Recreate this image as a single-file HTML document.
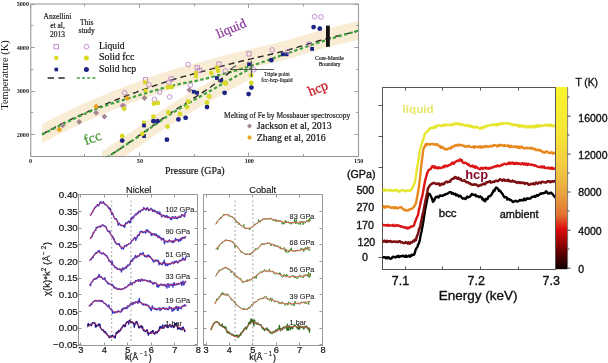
<!DOCTYPE html><html><head><meta charset="utf-8"><style>html,body{margin:0;padding:0;background:#fff;width:608px;height:363px;overflow:hidden}svg{display:block;will-change:transform}</style></head><body><svg width="608" height="363" viewBox="0 0 608 363"><defs><clipPath id="cpA"><rect x="30.8" y="4.0" width="327.7" height="152.5"/></clipPath></defs>
<g clip-path="url(#cpA)">
<path d="M42,124.4 L43,123.8 L44,123.3 L45,122.7 L46,122.2 L47,121.6 L48,121 L49,120.5 L50,119.9 L51,119.4 L52,118.9 L53,118.3 L54,117.8 L55,117.3 L56,116.7 L57,116.2 L58,115.7 L59,115.2 L60,114.7 L61,114.2 L62,113.7 L63,113.2 L64,112.7 L65,112.2 L66,111.8 L67,111.3 L68,110.8 L69,110.3 L70,109.8 L71,109.4 L72,108.9 L73,108.4 L74,108 L75,107.5 L76,107 L77,106.6 L78,106.1 L79,105.7 L80,105.2 L81,104.8 L82,104.3 L83,103.9 L84,103.4 L85,103 L86,102.5 L87,102.1 L88,101.7 L89,101.2 L90,100.8 L91,100.4 L92,99.9 L93,99.5 L94,99.1 L95,98.6 L96,98.2 L97,97.8 L98,97.3 L99,96.9 L100,96.5 L101,96.1 L102,95.7 L103,95.2 L104,94.8 L105,94.4 L106,94 L107,93.6 L108,93.2 L109,92.7 L110,92.3 L111,91.9 L112,91.5 L113,91.1 L114,90.7 L115,90.3 L116,89.9 L117,89.5 L118,89.1 L119,88.7 L120,88.3 L121,87.9 L122,87.5 L123,87.2 L124,86.8 L125,86.4 L126,86 L127,85.6 L128,85.2 L129,84.9 L130,84.5 L131,84.1 L132,83.7 L133,83.4 L134,83 L135,82.6 L136,82.3 L137,81.9 L138,81.5 L139,81.2 L140,80.8 L141,80.4 L142,80.1 L143,79.7 L144,79.4 L145,79 L146,78.6 L147,78.3 L148,77.9 L149,77.6 L150,77.2 L151,76.9 L152,76.5 L153,76.2 L154,75.8 L155,75.5 L156,75.1 L157,74.8 L158,74.5 L159,74.1 L160,73.8 L161,73.5 L162,73.1 L163,72.8 L164,72.5 L165,72.1 L166,71.8 L167,71.5 L168,71.2 L169,70.9 L170,70.5 L171,70.2 L172,69.9 L173,69.6 L174,69.3 L175,69 L176,68.7 L177,68.4 L178,68.1 L179,67.8 L180,67.5 L181,67.3 L182,67 L183,66.7 L184,66.4 L185,66.2 L186,65.9 L187,65.6 L188,65.4 L189,65.1 L190,64.8 L191,64.6 L192,64.3 L193,64 L194,63.8 L195,63.5 L196,63.2 L197,63 L198,62.7 L199,62.4 L200,62.1 L201,61.9 L202,61.6 L203,61.3 L204,61.1 L205,60.8 L206,60.5 L207,60.2 L208,60 L209,59.7 L210,59.4 L211,59.1 L212,58.9 L213,58.6 L214,58.3 L215,58.1 L216,57.8 L217,57.5 L218,57.3 L219,57 L220,56.7 L221,56.4 L222,56.2 L223,55.9 L224,55.6 L225,55.4 L226,55.1 L227,54.9 L228,54.6 L229,54.3 L230,54.1 L231,53.8 L232,53.5 L233,53.3 L234,53 L235,52.8 L236,52.5 L237,52.3 L238,52 L239,51.8 L240,51.5 L241,51.2 L242,51 L243,50.8 L244,50.5 L245,50.3 L246,50 L247,49.8 L248,49.6 L249,49.3 L250,49.1 L251,48.9 L252,48.6 L253,48.4 L254,48.2 L255,47.9 L256,47.7 L257,47.5 L258,47.2 L259,47 L260,46.8 L261,46.6 L262,46.3 L263,46.1 L264,45.9 L265,45.7 L266,45.4 L267,45.2 L268,45 L269,44.7 L270,44.5 L271,44.3 L272,44 L273,43.8 L274,43.6 L275,43.3 L276,43.1 L277,42.8 L278,42.6 L279,42.3 L280,42.1 L281,41.8 L282,41.6 L283,41.3 L284,41.1 L285,40.8 L286,40.5 L287,40.3 L288,40 L289,39.7 L290,39.4 L291,39.1 L292,38.8 L293,38.6 L294,38.3 L295,38 L296,37.7 L297,37.4 L298,37.1 L299,36.7 L300,36.4 L301,36.1 L302,35.8 L303,35.5 L304,35.2 L305,34.9 L306,34.6 L307,34.3 L308,34 L309,33.7 L310,33.4 L311,33.1 L312,32.8 L313,32.5 L314,32.2 L315,31.9 L316,31.6 L317,31.3 L318,31 L319,30.8 L320,30.5 L321,30.2 L322,30 L323,29.7 L324,29.4 L325,29.2 L326,28.9 L327,28.6 L328,28.4 L329,28.1 L330,27.9 L331,27.6 L332,27.3 L333,27.1 L334,26.8 L335,26.6 L336,26.3 L337,26.1 L338,25.8 L339,25.6 L340,25.3 L341,25.1 L342,24.8 L343,24.6 L344,24.4 L345,24.1 L346,23.9 L347,23.6 L348,23.4 L349,23.2 L350,22.9 L351,22.7 L352,22.5 L353,22.2 L354,22 L355,21.8 L356,21.6 L357,21.3 L358,21.1 L358,40.1 L357,40.3 L356,40.6 L355,40.8 L354,41 L353,41.2 L352,41.5 L351,41.7 L350,41.9 L349,42.2 L348,42.4 L347,42.6 L346,42.9 L345,43.1 L344,43.4 L343,43.6 L342,43.8 L341,44.1 L340,44.3 L339,44.6 L338,44.8 L337,45.1 L336,45.3 L335,45.6 L334,45.8 L333,46.1 L332,46.3 L331,46.6 L330,46.9 L329,47.1 L328,47.4 L327,47.6 L326,47.9 L325,48.2 L324,48.4 L323,48.7 L322,49 L321,49.2 L320,49.5 L319,49.8 L318,50 L317,50.3 L316,50.6 L315,50.9 L314,51.2 L313,51.5 L312,51.8 L311,52.1 L310,52.4 L309,52.7 L308,53 L307,53.3 L306,53.6 L305,53.9 L304,54.2 L303,54.5 L302,54.8 L301,55.1 L300,55.4 L299,55.7 L298,56.1 L297,56.4 L296,56.7 L295,57 L294,57.3 L293,57.6 L292,57.8 L291,58.1 L290,58.4 L289,58.7 L288,59 L287,59.3 L286,59.5 L285,59.8 L284,60.1 L283,60.3 L282,60.6 L281,60.8 L280,61.1 L279,61.3 L278,61.6 L277,61.8 L276,62.1 L275,62.3 L274,62.6 L273,62.8 L272,63 L271,63.3 L270,63.5 L269,63.7 L268,64 L267,64.2 L266,64.4 L265,64.7 L264,64.9 L263,65.1 L262,65.3 L261,65.6 L260,65.8 L259,66 L258,66.2 L257,66.5 L256,66.7 L255,66.9 L254,67.2 L253,67.4 L252,67.6 L251,67.9 L250,68.1 L249,68.3 L248,68.6 L247,68.8 L246,69 L245,69.3 L244,69.5 L243,69.8 L242,70 L241,70.2 L240,70.5 L239,70.8 L238,71 L237,71.3 L236,71.5 L235,71.8 L234,72 L233,72.3 L232,72.5 L231,72.8 L230,73.1 L229,73.3 L228,73.6 L227,73.9 L226,74.1 L225,74.4 L224,74.6 L223,74.9 L222,75.2 L221,75.4 L220,75.7 L219,76 L218,76.3 L217,76.5 L216,76.8 L215,77.1 L214,77.3 L213,77.6 L212,77.9 L211,78.1 L210,78.4 L209,78.7 L208,79 L207,79.2 L206,79.5 L205,79.8 L204,80.1 L203,80.3 L202,80.6 L201,80.9 L200,81.1 L199,81.4 L198,81.7 L197,82 L196,82.2 L195,82.5 L194,82.8 L193,83 L192,83.3 L191,83.6 L190,83.8 L189,84.1 L188,84.4 L187,84.6 L186,84.9 L185,85.2 L184,85.4 L183,85.7 L182,86 L181,86.3 L180,86.5 L179,86.8 L178,87.1 L177,87.4 L176,87.7 L175,88 L174,88.3 L173,88.6 L172,88.9 L171,89.2 L170,89.5 L169,89.9 L168,90.2 L167,90.5 L166,90.8 L165,91.1 L164,91.5 L163,91.8 L162,92.1 L161,92.5 L160,92.8 L159,93.1 L158,93.5 L157,93.8 L156,94.1 L155,94.5 L154,94.8 L153,95.2 L152,95.5 L151,95.9 L150,96.2 L149,96.6 L148,96.9 L147,97.3 L146,97.6 L145,98 L144,98.4 L143,98.7 L142,99.1 L141,99.4 L140,99.8 L139,100.2 L138,100.5 L137,100.9 L136,101.3 L135,101.6 L134,102 L133,102.4 L132,102.7 L131,103.1 L130,103.5 L129,103.9 L128,104.2 L127,104.6 L126,105 L125,105.4 L124,105.8 L123,106.2 L122,106.5 L121,106.9 L120,107.3 L119,107.7 L118,108.1 L117,108.5 L116,108.9 L115,109.3 L114,109.7 L113,110.1 L112,110.5 L111,110.9 L110,111.3 L109,111.7 L108,112.2 L107,112.6 L106,113 L105,113.4 L104,113.8 L103,114.2 L102,114.7 L101,115.1 L100,115.5 L99,115.9 L98,116.3 L97,116.8 L96,117.2 L95,117.6 L94,118.1 L93,118.5 L92,118.9 L91,119.4 L90,119.8 L89,120.2 L88,120.7 L87,121.1 L86,121.5 L85,122 L84,122.4 L83,122.9 L82,123.3 L81,123.8 L80,124.2 L79,124.7 L78,125.1 L77,125.6 L76,126 L75,126.5 L74,127 L73,127.4 L72,127.9 L71,128.4 L70,128.8 L69,129.3 L68,129.8 L67,130.3 L66,130.8 L65,131.2 L64,131.7 L63,132.2 L62,132.7 L61,133.2 L60,133.7 L59,134.2 L58,134.7 L57,135.2 L56,135.7 L55,136.3 L54,136.8 L53,137.3 L52,137.9 L51,138.4 L50,138.9 L49,139.5 L48,140 L47,140.6 L46,141.2 L45,141.7 L44,142.3 L43,142.8 L42,143.4 Z" fill="#ebc984" opacity="0.35"/>
<path d="M102,151.5 L103,150.8 L104,150.1 L105,149.4 L106,148.7 L107,148 L108,147.3 L109,146.6 L110,146 L111,145.3 L112,144.6 L113,143.9 L114,143.3 L115,142.6 L116,141.9 L117,141.3 L118,140.6 L119,139.9 L120,139.3 L121,138.6 L122,137.9 L123,137.3 L124,136.6 L125,136 L126,135.3 L127,134.7 L128,134 L129,133.3 L130,132.7 L131,132 L132,131.3 L133,130.7 L134,130 L135,129.3 L136,128.7 L137,128 L138,127.3 L139,126.6 L140,125.9 L141,125.2 L142,124.5 L143,123.8 L144,123.1 L145,122.4 L146,121.7 L147,121 L148,120.3 L149,119.6 L150,118.8 L151,118.1 L152,117.4 L153,116.7 L154,116 L155,115.3 L156,114.6 L157,113.8 L158,113.1 L159,112.4 L160,111.7 L161,111 L162,110.3 L163,109.7 L164,109 L165,108.3 L166,107.6 L167,107 L168,106.3 L169,105.6 L170,105 L171,104.4 L172,103.7 L173,103.1 L174,102.5 L175,101.8 L176,101.2 L177,100.6 L178,100 L179,99.4 L180,98.8 L181,98.2 L182,97.6 L183,97 L184,96.4 L185,95.8 L186,95.2 L187,94.6 L188,94 L189,93.4 L190,92.9 L191,92.3 L192,91.7 L193,91.1 L194,90.5 L195,90 L196,89.4 L197,88.8 L198,88.2 L199,87.7 L200,87.1 L201,86.5 L202,86 L203,85.4 L204,84.8 L205,84.3 L206,83.7 L207,83.2 L208,82.6 L209,82 L210,81.5 L211,80.9 L212,80.3 L213,79.8 L214,79.2 L215,78.7 L216,78.1 L217,77.5 L218,77 L219,76.4 L220,75.8 L221,75.3 L222,74.7 L223,74.1 L224,73.6 L225,73 L226,72.5 L227,71.9 L228,71.3 L229,70.8 L230,70.2 L231,69.7 L232,69.1 L233,68.5 L234,68 L235,67.4 L236,66.9 L237,66.3 L238,65.8 L239,65.2 L240,64.7 L241,64.1 L242,63.6 L243,63 L244,62.5 L245,62 L246,61.4 L247,60.9 L248,60.3 L249,59.8 L250,59.2 L251,58.7 L251,78.7 L250,79.2 L249,79.8 L248,80.3 L247,80.9 L246,81.4 L245,82 L244,82.5 L243,83 L242,83.6 L241,84.1 L240,84.7 L239,85.2 L238,85.8 L237,86.3 L236,86.9 L235,87.4 L234,88 L233,88.5 L232,89.1 L231,89.7 L230,90.2 L229,90.8 L228,91.3 L227,91.9 L226,92.5 L225,93 L224,93.6 L223,94.1 L222,94.7 L221,95.3 L220,95.8 L219,96.4 L218,97 L217,97.5 L216,98.1 L215,98.7 L214,99.2 L213,99.8 L212,100.3 L211,100.9 L210,101.5 L209,102 L208,102.6 L207,103.2 L206,103.7 L205,104.3 L204,104.8 L203,105.4 L202,106 L201,106.5 L200,107.1 L199,107.7 L198,108.2 L197,108.8 L196,109.4 L195,110 L194,110.5 L193,111.1 L192,111.7 L191,112.3 L190,112.9 L189,113.4 L188,114 L187,114.6 L186,115.2 L185,115.8 L184,116.4 L183,117 L182,117.6 L181,118.2 L180,118.8 L179,119.4 L178,120 L177,120.6 L176,121.2 L175,121.8 L174,122.5 L173,123.1 L172,123.7 L171,124.4 L170,125 L169,125.6 L168,126.3 L167,127 L166,127.6 L165,128.3 L164,129 L163,129.7 L162,130.3 L161,131 L160,131.7 L159,132.4 L158,133.1 L157,133.8 L156,134.6 L155,135.3 L154,136 L153,136.7 L152,137.4 L151,138.1 L150,138.8 L149,139.6 L148,140.3 L147,141 L146,141.7 L145,142.4 L144,143.1 L143,143.8 L142,144.5 L141,145.2 L140,145.9 L139,146.6 L138,147.3 L137,148 L136,148.7 L135,149.3 L134,150 L133,150.7 L132,151.3 L131,152 L130,152.7 L129,153.3 L128,154 L127,154.7 L126,155.3 L125,156 L124,156.6 L123,157.3 L122,157.9 L121,158.6 L120,159.3 L119,159.9 L118,160.6 L117,161.3 L116,161.9 L115,162.6 L114,163.3 L113,163.9 L112,164.6 L111,165.3 L110,166 L109,166.6 L108,167.3 L107,168 L106,168.7 L105,169.4 L104,170.1 L103,170.8 L102,171.5 Z" fill="#ebc984" opacity="0.35"/>
</g>
<rect x="30.8" y="4.0" width="327.7" height="152.5" fill="none" stroke="#9a9a9a" stroke-width="1.1"/>
<line x1="30.5" y1="156.5" x2="30.5" y2="152.5" stroke="#a0a0a0" stroke-width="1"/>
<line x1="30.5" y1="4.0" x2="30.5" y2="8.0" stroke="#a0a0a0" stroke-width="1"/>
<line x1="84.5" y1="156.5" x2="84.5" y2="154.0" stroke="#a0a0a0" stroke-width="1"/>
<line x1="84.5" y1="4.0" x2="84.5" y2="6.5" stroke="#a0a0a0" stroke-width="1"/>
<line x1="139.5" y1="156.5" x2="139.5" y2="152.5" stroke="#a0a0a0" stroke-width="1"/>
<line x1="139.5" y1="4.0" x2="139.5" y2="8.0" stroke="#a0a0a0" stroke-width="1"/>
<line x1="194.5" y1="156.5" x2="194.5" y2="154.0" stroke="#a0a0a0" stroke-width="1"/>
<line x1="194.5" y1="4.0" x2="194.5" y2="6.5" stroke="#a0a0a0" stroke-width="1"/>
<line x1="248.5" y1="156.5" x2="248.5" y2="152.5" stroke="#a0a0a0" stroke-width="1"/>
<line x1="248.5" y1="4.0" x2="248.5" y2="8.0" stroke="#a0a0a0" stroke-width="1"/>
<line x1="303.5" y1="156.5" x2="303.5" y2="154.0" stroke="#a0a0a0" stroke-width="1"/>
<line x1="303.5" y1="4.0" x2="303.5" y2="6.5" stroke="#a0a0a0" stroke-width="1"/>
<line x1="358.5" y1="156.5" x2="358.5" y2="152.5" stroke="#a0a0a0" stroke-width="1"/>
<line x1="358.5" y1="4.0" x2="358.5" y2="8.0" stroke="#a0a0a0" stroke-width="1"/>
<line x1="30.8" y1="4.5" x2="34.8" y2="4.5" stroke="#a0a0a0" stroke-width="1"/>
<line x1="358.5" y1="4.5" x2="354.5" y2="4.5" stroke="#a0a0a0" stroke-width="1"/>
<line x1="30.8" y1="25.5" x2="33.3" y2="25.5" stroke="#a0a0a0" stroke-width="1"/>
<line x1="358.5" y1="25.5" x2="356.0" y2="25.5" stroke="#a0a0a0" stroke-width="1"/>
<line x1="30.8" y1="47.5" x2="34.8" y2="47.5" stroke="#a0a0a0" stroke-width="1"/>
<line x1="358.5" y1="47.5" x2="354.5" y2="47.5" stroke="#a0a0a0" stroke-width="1"/>
<line x1="30.8" y1="69.5" x2="33.3" y2="69.5" stroke="#a0a0a0" stroke-width="1"/>
<line x1="358.5" y1="69.5" x2="356.0" y2="69.5" stroke="#a0a0a0" stroke-width="1"/>
<line x1="30.8" y1="91.5" x2="34.8" y2="91.5" stroke="#a0a0a0" stroke-width="1"/>
<line x1="358.5" y1="91.5" x2="354.5" y2="91.5" stroke="#a0a0a0" stroke-width="1"/>
<line x1="30.8" y1="112.5" x2="33.3" y2="112.5" stroke="#a0a0a0" stroke-width="1"/>
<line x1="358.5" y1="112.5" x2="356.0" y2="112.5" stroke="#a0a0a0" stroke-width="1"/>
<line x1="30.8" y1="134.5" x2="34.8" y2="134.5" stroke="#a0a0a0" stroke-width="1"/>
<line x1="358.5" y1="134.5" x2="354.5" y2="134.5" stroke="#a0a0a0" stroke-width="1"/>
<text x="29" y="6.2" font-family='"Liberation Serif", serif' font-size="6.2" fill="#222" text-anchor="end" font-weight="bold" stroke="#222" stroke-width="0" >5000</text>
<text x="29" y="49.7" font-family='"Liberation Serif", serif' font-size="6.2" fill="#222" text-anchor="end" font-weight="bold" stroke="#222" stroke-width="0" >4000</text>
<text x="29" y="93.1" font-family='"Liberation Serif", serif' font-size="6.2" fill="#222" text-anchor="end" font-weight="bold" stroke="#222" stroke-width="0" >3000</text>
<text x="29" y="136.6" font-family='"Liberation Serif", serif' font-size="6.2" fill="#222" text-anchor="end" font-weight="bold" stroke="#222" stroke-width="0" >2000</text>
<text x="30.5" y="162.8" font-family='"Liberation Serif", serif' font-size="6.2" fill="#222" text-anchor="middle" font-weight="bold" stroke="#222" stroke-width="0" >0</text>
<text x="139.9" y="162.8" font-family='"Liberation Serif", serif' font-size="6.2" fill="#222" text-anchor="middle" font-weight="bold" stroke="#222" stroke-width="0" >50</text>
<text x="249.3" y="162.8" font-family='"Liberation Serif", serif' font-size="6.2" fill="#222" text-anchor="middle" font-weight="bold" stroke="#222" stroke-width="0" >100</text>
<text x="358.7" y="162.8" font-family='"Liberation Serif", serif' font-size="6.2" fill="#222" text-anchor="middle" font-weight="bold" stroke="#222" stroke-width="0" >150</text>
<text x="165" y="173.7" font-family='"Liberation Serif", serif' font-size="10" fill="#111" text-anchor="start" font-weight="normal" stroke="#111" stroke-width="0.2"  textLength="59.6" lengthAdjust="spacingAndGlyphs">Pressure (GPa)</text>
<text transform="translate(8.3,75) rotate(-90)" font-family='"Liberation Serif", serif' font-size="10.4" fill="#111" text-anchor="middle">Temperature (K)</text>
<g clip-path="url(#cpA)">
<path d="M42,134.4 L43,133.8 L44,133.3 L45,132.7 L46,132.2 L47,131.6 L48,131 L49,130.5 L50,129.9 L51,129.4 L52,128.9 L53,128.3 L54,127.8 L55,127.3 L56,126.7 L57,126.2 L58,125.7 L59,125.2 L60,124.7 L61,124.2 L62,123.7 L63,123.2 L64,122.7 L65,122.2 L66,121.8 L67,121.3 L68,120.8 L69,120.3 L70,119.8 L71,119.4 L72,118.9 L73,118.4 L74,118 L75,117.5 L76,117 L77,116.6 L78,116.1 L79,115.7 L80,115.2 L81,114.8 L82,114.3 L83,113.9 L84,113.4 L85,113 L86,112.5 L87,112.1 L88,111.7 L89,111.2 L90,110.8 L91,110.4 L92,109.9 L93,109.5 L94,109.1 L95,108.6 L96,108.2 L97,107.8 L98,107.3 L99,106.9 L100,106.5 L101,106.1 L102,105.7 L103,105.2 L104,104.8 L105,104.4 L106,104 L107,103.6 L108,103.2 L109,102.7 L110,102.3 L111,101.9 L112,101.5 L113,101.1 L114,100.7 L115,100.3 L116,99.9 L117,99.5 L118,99.1 L119,98.7 L120,98.3 L121,97.9 L122,97.5 L123,97.2 L124,96.8 L125,96.4 L126,96 L127,95.6 L128,95.2 L129,94.9 L130,94.5 L131,94.1 L132,93.7 L133,93.4 L134,93 L135,92.6 L136,92.3 L137,91.9 L138,91.5 L139,91.2 L140,90.8 L141,90.4 L142,90.1 L143,89.7 L144,89.4 L145,89 L146,88.6 L147,88.3 L148,87.9 L149,87.6 L150,87.2 L151,86.9 L152,86.5 L153,86.2 L154,85.8 L155,85.5 L156,85.1 L157,84.8 L158,84.5 L159,84.1 L160,83.8 L161,83.5 L162,83.1 L163,82.8 L164,82.5 L165,82.1 L166,81.8 L167,81.5 L168,81.2 L169,80.9 L170,80.5 L171,80.2 L172,79.9 L173,79.6 L174,79.3 L175,79 L176,78.7 L177,78.4 L178,78.1 L179,77.8 L180,77.5 L181,77.3 L182,77 L183,76.7 L184,76.4 L185,76.2 L186,75.9 L187,75.6 L188,75.4 L189,75.1 L190,74.8 L191,74.6 L192,74.3 L193,74 L194,73.8 L195,73.5 L196,73.2 L197,73 L198,72.7 L199,72.4 L200,72.1 L201,71.9 L202,71.6 L203,71.3 L204,71.1 L205,70.8 L206,70.5 L207,70.2 L208,70 L209,69.7 L210,69.4 L211,69.1 L212,68.9 L213,68.6 L214,68.3 L215,68.1 L216,67.8 L217,67.5 L218,67.3 L219,67 L220,66.7 L221,66.4 L222,66.2 L223,65.9 L224,65.6 L225,65.4 L226,65.1 L227,64.9 L228,64.6 L229,64.3 L230,64.1 L231,63.8 L232,63.5 L233,63.3 L234,63 L235,62.8 L236,62.5 L237,62.3 L238,62 L239,61.8 L240,61.5 L241,61.2 L242,61 L243,60.8 L244,60.5 L245,60.3 L246,60 L247,59.8 L248,59.6 L249,59.3 L250,59.1 L251,58.9 L252,58.6 L253,58.4 L254,58.2 L255,57.9 L256,57.7 L257,57.5 L258,57.2 L259,57 L260,56.8 L261,56.6 L262,56.3 L263,56.1 L264,55.9 L265,55.7 L266,55.4 L267,55.2 L268,55 L269,54.7 L270,54.5 L271,54.3 L272,54 L273,53.8 L274,53.6 L275,53.3 L276,53.1 L277,52.8 L278,52.6 L279,52.3 L280,52.1 L281,51.8 L282,51.6 L283,51.3 L284,51.1 L285,50.8 L286,50.5 L287,50.3 L288,50 L289,49.7 L290,49.4 L291,49.1 L292,48.8 L293,48.6 L294,48.3 L295,48 L296,47.7 L297,47.4 L298,47.1 L299,46.7 L300,46.4 L301,46.1 L302,45.8 L303,45.5 L304,45.2 L305,44.9 L306,44.6 L307,44.3 L308,44 L309,43.7 L310,43.4 L311,43.1 L312,42.8 L313,42.5 L314,42.2 L315,41.9 L316,41.6 L317,41.3 L318,41 L319,40.8 L320,40.5 L321,40.2 L322,40 L323,39.7 L324,39.4 L325,39.2 L326,38.9 L327,38.6 L328,38.4 L329,38.1 L330,37.9 L331,37.6 L332,37.3 L333,37.1 L334,36.8 L335,36.6 L336,36.3 L337,36.1 L338,35.8 L339,35.6 L340,35.3 L341,35.1 L342,34.8 L343,34.6 L344,34.4 L345,34.1 L346,33.9 L347,33.6 L348,33.4 L349,33.2 L350,32.9 L351,32.7 L352,32.5 L353,32.2 L354,32 L355,31.8 L356,31.6 L357,31.3 L358,31.1" fill="none" stroke="#2a2a2a" stroke-width="1.4" stroke-dasharray="6,4"/>
<path d="M42,134.6 L43,134.1 L44,133.6 L45,133 L46,132.5 L47,132 L48,131.5 L49,131 L50,130.5 L51,130 L52,129.4 L53,128.9 L54,128.4 L55,127.9 L56,127.4 L57,127 L58,126.5 L59,126 L60,125.5 L61,125 L62,124.5 L63,124.1 L64,123.6 L65,123.1 L66,122.6 L67,122.1 L68,121.6 L69,121.2 L70,120.7 L71,120.2 L72,119.7 L73,119.2 L74,118.8 L75,118.3 L76,117.8 L77,117.3 L78,116.9 L79,116.4 L80,115.9 L81,115.5 L82,115 L83,114.6 L84,114.1 L85,113.7 L86,113.2 L87,112.8 L88,112.3 L89,111.9 L90,111.5 L91,111.1 L92,110.6 L93,110.2 L94,109.8 L95,109.4 L96,109 L97,108.6 L98,108.3 L99,107.9 L100,107.5 L101,107.1 L102,106.8 L103,106.4 L104,106.1 L105,105.7 L106,105.4 L107,105.1 L108,104.7 L109,104.4 L110,104.1 L111,103.8 L112,103.4 L113,103.1 L114,102.8 L115,102.5 L116,102.2 L117,101.9 L118,101.6 L119,101.3 L120,101 L121,100.7 L122,100.4 L123,100.1 L124,99.8 L125,99.5 L126,99.2 L127,98.9 L128,98.6 L129,98.3 L130,98 L131,97.7 L132,97.4 L133,97.1 L134,96.8 L135,96.5 L136,96.2 L137,95.9 L138,95.5 L139,95.2 L140,94.9 L141,94.6 L142,94.3 L143,94 L144,93.7 L145,93.4 L146,93.1 L147,92.8 L148,92.5 L149,92.2 L150,91.9 L151,91.6 L152,91.3 L153,91 L154,90.7 L155,90.4 L156,90.1 L157,89.8 L158,89.5 L159,89.2 L160,88.9 L161,88.6 L162,88.3 L163,88.1 L164,87.8 L165,87.5 L166,87.3 L167,87 L168,86.7 L169,86.5 L170,86.2 L171,86 L172,85.7 L173,85.5 L174,85.2 L175,85 L176,84.8 L177,84.5 L178,84.3 L179,84.1 L180,83.9 L181,83.7 L182,83.5 L183,83.3 L184,83.1 L185,82.9 L186,82.8 L187,82.6 L188,82.4 L189,82.2 L190,82 L191,81.8 L192,81.6 L193,81.4 L194,81.3 L195,81.1 L196,80.9 L197,80.7 L198,80.4 L199,80.2 L200,80 L201,79.8 L202,79.5 L203,79.3 L204,79.1 L205,78.8 L206,78.6 L207,78.3 L208,78.1 L209,77.8 L210,77.6 L211,77.3 L212,77 L213,76.8 L214,76.5 L215,76.2 L216,76 L217,75.7 L218,75.4 L219,75.1 L220,74.9 L221,74.6 L222,74.3 L223,74 L224,73.8 L225,73.5 L226,73.2 L227,73 L228,72.7 L229,72.4 L230,72.1 L231,71.9 L232,71.6 L233,71.3 L234,71 L235,70.7 L236,70.5 L237,70.2 L238,69.9 L239,69.6 L240,69.3 L241,69 L242,68.7 L243,68.4 L244,68.1 L245,67.8 L246,67.5 L247,67.2 L248,66.9 L249,66.6 L250,66.3 L251,66 L252,65.7 L253,65.3 L254,65 L255,64.7 L256,64.3 L257,64 L258,63.7 L259,63.3 L260,63 L261,62.6 L262,62.3 L263,61.9 L264,61.6 L265,61.2 L266,60.9 L267,60.5 L268,60.2 L269,59.8 L270,59.4 L271,59.1 L272,58.7 L273,58.4 L274,58 L275,57.6 L276,57.3 L277,56.9 L278,56.6 L279,56.2 L280,55.8 L281,55.5 L282,55.1 L283,54.8 L284,54.4 L285,54.1 L286,53.8 L287,53.4 L288,53.1 L289,52.7 L290,52.4 L291,52 L292,51.7 L293,51.3 L294,51 L295,50.6 L296,50.3 L297,49.9 L298,49.6 L299,49.3 L300,48.9 L301,48.6 L302,48.2 L303,47.9 L304,47.5 L305,47.2 L306,46.8 L307,46.5 L308,46.2 L309,45.8 L310,45.5 L311,45.2 L312,44.8 L313,44.5 L314,44.2 L315,43.8 L316,43.5 L317,43.2 L318,42.8 L319,42.5 L320,42.2 L321,41.9 L322,41.6 L323,41.2 L324,40.9 L325,40.6 L326,40.3 L327,40 L328,39.7 L329,39.4 L330,39 L331,38.7 L332,38.4 L333,38.1 L334,37.8 L335,37.5 L336,37.2 L337,36.9 L338,36.6 L339,36.3 L340,36 L341,35.7 L342,35.4 L343,35.1 L344,34.8 L345,34.5 L346,34.2 L347,33.9 L348,33.6 L349,33.3 L350,33 L351,32.7 L352,32.5 L353,32.2 L354,31.9 L355,31.6 L356,31.3 L357,31 L358,30.7" fill="none" stroke="#3ca03c" stroke-width="2.2" stroke-dasharray="3.4,2.4"/>
<path d="M102,159.5 L103,159 L104,158.5 L105,158 L106,157.4 L107,156.9 L108,156.4 L109,155.8 L110,155.2 L111,154.6 L112,154 L113,153.4 L114,152.8 L115,152.1 L116,151.5 L117,150.8 L118,150.2 L119,149.5 L120,148.9 L121,148.2 L122,147.5 L123,146.8 L124,146.1 L125,145.4 L126,144.7 L127,144 L128,143.3 L129,142.6 L130,141.9 L131,141.2 L132,140.5 L133,139.8 L134,139.1 L135,138.4 L136,137.7 L137,137 L138,136.3 L139,135.6 L140,134.9 L141,134.2 L142,133.5 L143,132.8 L144,132.1 L145,131.4 L146,130.7 L147,129.9 L148,129.2 L149,128.5 L150,127.8 L151,127 L152,126.3 L153,125.6 L154,124.9 L155,124.2 L156,123.4 L157,122.7 L158,122 L159,121.3 L160,120.5 L161,119.8 L162,119.1 L163,118.4 L164,117.7 L165,117 L166,116.3 L167,115.6 L168,114.9 L169,114.2 L170,113.5 L171,112.8 L172,112.1 L173,111.5 L174,110.8 L175,110.1 L176,109.5 L177,108.8 L178,108.2 L179,107.5 L180,106.9 L181,106.2 L182,105.6 L183,104.9 L184,104.3 L185,103.7 L186,103 L187,102.4 L188,101.7 L189,101.1 L190,100.5 L191,99.8 L192,99.2 L193,98.6 L194,97.9 L195,97.3 L196,96.7 L197,96 L198,95.4 L199,94.7 L200,94.1 L201,93.4 L202,92.8 L203,92.1 L204,91.4 L205,90.8 L206,90.1 L207,89.4 L208,88.7 L209,88 L210,87.4 L211,86.7 L212,85.9 L213,85.2 L214,84.5 L215,83.8 L216,83 L217,82.3 L218,81.5 L219,80.8 L220,80 L221,79.2 L222,78.4 L223,77.7 L224,76.9 L225,76.1 L226,75.3 L227,74.4 L228,73.6 L229,72.8 L230,72 L231,71.2 L232,70.3 L233,69.5" fill="none" stroke="#2a2a2a" stroke-width="1.4" stroke-dasharray="6,4"/>
<path d="M102,161 L103,160.3 L104,159.6 L105,158.9 L106,158.2 L107,157.5 L108,156.8 L109,156.1 L110,155.5 L111,154.8 L112,154.1 L113,153.4 L114,152.8 L115,152.1 L116,151.4 L117,150.8 L118,150.1 L119,149.4 L120,148.8 L121,148.1 L122,147.4 L123,146.8 L124,146.1 L125,145.5 L126,144.8 L127,144.2 L128,143.5 L129,142.8 L130,142.2 L131,141.5 L132,140.8 L133,140.2 L134,139.5 L135,138.8 L136,138.2 L137,137.5 L138,136.8 L139,136.1 L140,135.4 L141,134.7 L142,134 L143,133.3 L144,132.6 L145,131.9 L146,131.2 L147,130.5 L148,129.8 L149,129.1 L150,128.3 L151,127.6 L152,126.9 L153,126.2 L154,125.5 L155,124.8 L156,124.1 L157,123.3 L158,122.6 L159,121.9 L160,121.2 L161,120.5 L162,119.8 L163,119.2 L164,118.5 L165,117.8 L166,117.1 L167,116.5 L168,115.8 L169,115.1 L170,114.5 L171,113.9 L172,113.2 L173,112.6 L174,112 L175,111.3 L176,110.7 L177,110.1 L178,109.5 L179,108.9 L180,108.3 L181,107.7 L182,107.1 L183,106.5 L184,105.9 L185,105.3 L186,104.7 L187,104.1 L188,103.5 L189,102.9 L190,102.4 L191,101.8 L192,101.2 L193,100.6 L194,100 L195,99.5 L196,98.9 L197,98.3 L198,97.7 L199,97.2 L200,96.6 L201,96 L202,95.5 L203,94.9 L204,94.3 L205,93.8 L206,93.2 L207,92.7 L208,92.1 L209,91.5 L210,91 L211,90.4 L212,89.8 L213,89.3 L214,88.7 L215,88.2 L216,87.6 L217,87 L218,86.5 L219,85.9 L220,85.3 L221,84.8 L222,84.2 L223,83.6 L224,83.1 L225,82.5 L226,82 L227,81.4 L228,80.8 L229,80.3 L230,79.7 L231,79.2 L232,78.6 L233,78 L234,77.5 L235,76.9 L236,76.4 L237,75.8 L238,75.3 L239,74.7 L240,74.2 L241,73.6 L242,73.1 L243,72.5 L244,72 L245,71.5 L246,70.9 L247,70.4 L248,69.8 L249,69.3 L250,68.7 L251,68.2" fill="none" stroke="#3ca03c" stroke-width="2.2" stroke-dasharray="3.4,2.4"/>
</g>
<path d="M62.8,122.4 L65.7,125.3 L62.8,128.2 L59.9,125.3 Z" fill="#a48592"/>
<path d="M79.2,118.9 L82.1,121.8 L79.2,124.7 L76.3,121.8 Z" fill="#a48592"/>
<path d="M96.1,109.9 L99,112.8 L96.1,115.7 L93.2,112.8 Z" fill="#a48592"/>
<path d="M104.4,113.7 L107.3,116.6 L104.4,119.5 L101.5,116.6 Z" fill="#a48592"/>
<path d="M122.6,102.7 L125.5,105.6 L122.6,108.5 L119.7,105.6 Z" fill="#a48592"/>
<path d="M144.5,95.1 L147.4,98 L144.5,100.9 L141.6,98 Z" fill="#a48592"/>
<path d="M189.4,87.1 L192.3,90 L189.4,92.9 L186.5,90 Z" fill="#a48592"/>
<path d="M59.3,126.6 L62.2,129.5 L59.3,132.4 L56.4,129.5 Z" fill="#e9a21f"/>
<path d="M96.1,103.5 L99,106.4 L96.1,109.3 L93.2,106.4 Z" fill="#e9a21f"/>
<path d="M127.2,95.3 L130.1,98.2 L127.2,101.1 L124.3,98.2 Z" fill="#e9a21f"/>
<rect x="143.5" y="77.7" width="4.2" height="4.2" fill="none" stroke="#b577c4" stroke-width="0.8"/>
<rect x="169.1" y="76.8" width="4.2" height="4.2" fill="none" stroke="#b577c4" stroke-width="0.8"/>
<rect x="195.1" y="65.7" width="4.2" height="4.2" fill="none" stroke="#b577c4" stroke-width="0.8"/>
<rect x="197.3" y="68.2" width="4.2" height="4.2" fill="none" stroke="#b577c4" stroke-width="0.8"/>
<rect x="216.9" y="61.9" width="4.2" height="4.2" fill="none" stroke="#b577c4" stroke-width="0.8"/>
<rect x="246.9" y="51.8" width="4.2" height="4.2" fill="none" stroke="#b577c4" stroke-width="0.8"/>
<rect x="143.2" y="80.5" width="3.8" height="3.8" fill="#d9d925"/>
<rect x="143.7" y="88.6" width="3.8" height="3.8" fill="#d9d925"/>
<rect x="194" y="71.1" width="3.8" height="3.8" fill="#d9d925"/>
<rect x="194" y="74.4" width="3.8" height="3.8" fill="#d9d925"/>
<rect x="215" y="65.5" width="3.8" height="3.8" fill="#d9d925"/>
<rect x="142.1" y="120.6" width="3.8" height="3.8" fill="#d9d925"/>
<rect x="215" y="76.1" width="3.8" height="3.8" fill="#1d2384"/>
<rect x="219.4" y="78.8" width="3.8" height="3.8" fill="#1d2384"/>
<rect x="191.8" y="89.8" width="3.8" height="3.8" fill="#1d2384"/>
<rect x="195.1" y="90.9" width="3.8" height="3.8" fill="#1d2384"/>
<rect x="247.1" y="62.4" width="3.8" height="3.8" fill="#1d2384"/>
<rect x="280.9" y="52.4" width="3.8" height="3.8" fill="#1d2384"/>
<rect x="284.7" y="52.4" width="3.8" height="3.8" fill="#1d2384"/>
<rect x="310.2" y="47" width="3.8" height="3.8" fill="#1d2384"/>
<rect x="142.1" y="123.6" width="3.8" height="3.8" fill="#1d2384"/>
<rect x="142.1" y="134.1" width="3.8" height="3.8" fill="#1d2384"/>
<circle cx="124.7" cy="92.8" r="2.3" fill="none" stroke="#b577c4" stroke-width="0.8"/>
<circle cx="148.9" cy="84.7" r="2.3" fill="none" stroke="#b577c4" stroke-width="0.8"/>
<circle cx="159.7" cy="92.1" r="2.3" fill="none" stroke="#b577c4" stroke-width="0.8"/>
<circle cx="168.8" cy="82.2" r="2.3" fill="none" stroke="#b577c4" stroke-width="0.8"/>
<circle cx="169.7" cy="96.9" r="2.3" fill="none" stroke="#b577c4" stroke-width="0.8"/>
<circle cx="154.4" cy="99.4" r="2.3" fill="none" stroke="#b577c4" stroke-width="0.8"/>
<circle cx="123.8" cy="106.2" r="2.3" fill="none" stroke="#b577c4" stroke-width="0.8"/>
<circle cx="188.2" cy="64.6" r="2.3" fill="none" stroke="#b577c4" stroke-width="0.8"/>
<circle cx="190.4" cy="85.1" r="2.3" fill="none" stroke="#b577c4" stroke-width="0.8"/>
<circle cx="225.3" cy="71" r="2.3" fill="none" stroke="#b577c4" stroke-width="0.8"/>
<circle cx="253.9" cy="69.8" r="2.3" fill="none" stroke="#b577c4" stroke-width="0.8"/>
<circle cx="272.2" cy="49.9" r="2.3" fill="none" stroke="#b577c4" stroke-width="0.8"/>
<circle cx="287.6" cy="51.8" r="2.3" fill="none" stroke="#b577c4" stroke-width="0.8"/>
<circle cx="308.8" cy="44.1" r="2.3" fill="none" stroke="#b577c4" stroke-width="0.8"/>
<circle cx="314.6" cy="16.7" r="2.3" fill="none" stroke="#b577c4" stroke-width="0.8"/>
<circle cx="321" cy="16.9" r="2.3" fill="none" stroke="#b577c4" stroke-width="0.8"/>
<circle cx="167.9" cy="87.2" r="2.4" fill="#d9d925"/>
<circle cx="171.6" cy="87.2" r="2.4" fill="#d9d925"/>
<circle cx="153.9" cy="103.7" r="2.4" fill="#d9d925"/>
<circle cx="157.7" cy="102.9" r="2.4" fill="#d9d925"/>
<circle cx="124.1" cy="108.7" r="2.4" fill="#d9d925"/>
<circle cx="211.3" cy="73" r="2.4" fill="#d9d925"/>
<circle cx="218" cy="70.7" r="2.4" fill="#d9d925"/>
<circle cx="224.6" cy="82.9" r="2.4" fill="#d9d925"/>
<circle cx="209.1" cy="96.5" r="2.4" fill="#d9d925"/>
<circle cx="207" cy="102.7" r="2.4" fill="#d9d925"/>
<circle cx="188.2" cy="101.6" r="2.4" fill="#d9d925"/>
<circle cx="187.1" cy="107.1" r="2.4" fill="#d9d925"/>
<circle cx="251.2" cy="75.2" r="2.4" fill="#d9d925"/>
<circle cx="251.2" cy="82.9" r="2.4" fill="#d9d925"/>
<circle cx="225.8" cy="83.5" r="2.4" fill="#d9d925"/>
<circle cx="180" cy="114" r="2.4" fill="#d9d925"/>
<circle cx="168.4" cy="112.5" r="2.4" fill="#d9d925"/>
<circle cx="153.4" cy="116.6" r="2.4" fill="#d9d925"/>
<circle cx="167.5" cy="126.6" r="2.4" fill="#d9d925"/>
<circle cx="142.5" cy="133.8" r="2.4" fill="#d9d925"/>
<circle cx="122.2" cy="136" r="2.4" fill="#d9d925"/>
<circle cx="224.6" cy="92.8" r="2.4" fill="#1d2384"/>
<circle cx="207" cy="107.1" r="2.4" fill="#1d2384"/>
<circle cx="251.4" cy="87.6" r="2.4" fill="#1d2384"/>
<circle cx="248.6" cy="94.1" r="2.4" fill="#1d2384"/>
<circle cx="271.3" cy="60.2" r="2.4" fill="#1d2384"/>
<circle cx="313.6" cy="27.1" r="2.4" fill="#1d2384"/>
<circle cx="319.8" cy="28.7" r="2.4" fill="#1d2384"/>
<circle cx="178.4" cy="119.4" r="2.4" fill="#1d2384"/>
<circle cx="185.6" cy="117.8" r="2.4" fill="#1d2384"/>
<circle cx="153.4" cy="121.2" r="2.4" fill="#1d2384"/>
<circle cx="157.5" cy="121.2" r="2.4" fill="#1d2384"/>
<circle cx="166.9" cy="139.7" r="2.4" fill="#1d2384"/>
<circle cx="122.2" cy="140.6" r="2.4" fill="#1d2384"/>
<path d="M230,69.5 L273.8,69.5 M251.5,60.7 L251.5,77.2 M230,69.5 L236,65.5" stroke="#5a5a5a" stroke-width="1.2" fill="none"/>
<text x="264" y="75.8" font-family='"Liberation Serif", serif' font-size="6.6" fill="#222" text-anchor="start" font-weight="normal" stroke="#222" stroke-width="0.2"  textLength="25.8" lengthAdjust="spacingAndGlyphs">Triple point</text>
<text x="261.3" y="81.7" font-family='"Liberation Serif", serif' font-size="6.6" fill="#222" text-anchor="start" font-weight="normal" stroke="#222" stroke-width="0.2"  textLength="31.3" lengthAdjust="spacingAndGlyphs">fcc-hcp-liquid</text>
<rect x="326" y="25.6" width="3.8" height="21.2" fill="#111"/>
<text x="314.9" y="59.8" font-family='"Liberation Serif", serif' font-size="6.3" fill="#222" text-anchor="start" font-weight="normal" stroke="#222" stroke-width="0.2"  textLength="28.9" lengthAdjust="spacingAndGlyphs">Core-Mantle</text>
<text x="318.7" y="66.4" font-family='"Liberation Serif", serif' font-size="6.3" fill="#222" text-anchor="start" font-weight="normal" stroke="#222" stroke-width="0.2"  textLength="21.8" lengthAdjust="spacingAndGlyphs">Boundary</text>
<text transform="translate(218.5,38.5) rotate(-23)" font-family='"Liberation Serif", serif' font-size="13.3" fill="#8e3d9e" stroke="#8e3d9e" stroke-width="0.25">liquid</text>
<text transform="translate(85.8,145.3) rotate(-20)" font-family='"Liberation Serif", serif' font-size="14.5" fill="#4c9b3a" stroke="#4c9b3a" stroke-width="0.3">fcc</text>
<text transform="translate(310.3,96.3) rotate(-22)" font-family='"Liberation Serif", serif' font-size="14" fill="#c8222c" stroke="#c8222c" stroke-width="0.3">hcp</text>
<text x="57.5" y="19.2" font-family='"Liberation Serif", serif' font-size="7.5" fill="#222" text-anchor="middle" font-weight="normal" stroke="#222" stroke-width="0.2" >Anzellini</text>
<text x="57.5" y="27.6" font-family='"Liberation Serif", serif' font-size="7.5" fill="#222" text-anchor="middle" font-weight="normal" stroke="#222" stroke-width="0.2" >et al,</text>
<text x="57.5" y="37" font-family='"Liberation Serif", serif' font-size="7.5" fill="#222" text-anchor="middle" font-weight="normal" stroke="#222" stroke-width="0.2" >2013</text>
<text x="86.7" y="24.8" font-family='"Liberation Serif", serif' font-size="7.5" fill="#222" text-anchor="middle" font-weight="normal" stroke="#222" stroke-width="0.2" >This</text>
<text x="86.7" y="33.3" font-family='"Liberation Serif", serif' font-size="7.5" fill="#222" text-anchor="middle" font-weight="normal" stroke="#222" stroke-width="0.2" >study</text>
<rect x="54" y="44.4" width="4.5" height="4.5" fill="none" stroke="#b577c4" stroke-width="0.8"/>
<rect x="54.4" y="56" width="3.8" height="3.8" fill="#d9d925"/>
<rect x="54.5" y="67.7" width="3.6" height="3.6" fill="#1d2384"/>
<circle cx="86.4" cy="46.6" r="2.4" fill="none" stroke="#b577c4" stroke-width="0.8"/>
<circle cx="86.4" cy="57.9" r="2.5" fill="#d9d925"/>
<circle cx="86.4" cy="69.5" r="2.5" fill="#1d2384"/>
<path d="M47.6,78 L54,78 M58.4,78 L64.7,78" stroke="#2a2a2a" stroke-width="1.3"/>
<line x1="76.8" y1="78" x2="96.7" y2="78" stroke="#3ca03c" stroke-width="1.5" stroke-dasharray="3,2.2"/>
<text x="99" y="48.7" font-family='"Liberation Serif", serif' font-size="9.8" fill="#111" text-anchor="start" font-weight="normal" stroke="#111" stroke-width="0.2"  textLength="25.6" lengthAdjust="spacingAndGlyphs">Liquid</text>
<text x="99" y="60.4" font-family='"Liberation Serif", serif' font-size="9.8" fill="#111" text-anchor="start" font-weight="normal" stroke="#111" stroke-width="0.2"  textLength="35.4" lengthAdjust="spacingAndGlyphs">Solid fcc</text>
<text x="99" y="72.1" font-family='"Liberation Serif", serif' font-size="9.8" fill="#111" text-anchor="start" font-weight="normal" stroke="#111" stroke-width="0.2"  textLength="37.2" lengthAdjust="spacingAndGlyphs">Solid hcp</text>
<text x="224" y="117.8" font-family='"Liberation Serif", serif' font-size="7.6" fill="#222" text-anchor="start" font-weight="normal" stroke="#222" stroke-width="0.2"  textLength="126.2" lengthAdjust="spacingAndGlyphs">Melting of Fe by Mossbauer spectroscopy</text>
<path d="M249.5,123.4 L252,125.9 L249.5,128.4 L247,125.9 Z" fill="#a48592"/>
<text x="256.8" y="129.1" font-family='"Liberation Serif", serif' font-size="9.8" fill="#111" text-anchor="start" font-weight="normal" stroke="#111" stroke-width="0.2"  textLength="74.8" lengthAdjust="spacingAndGlyphs">Jackson et al, 2013</text>
<path d="M249.5,135 L252,137.5 L249.5,140 L247,137.5 Z" fill="#e9a21f"/>
<text x="256.8" y="140.7" font-family='"Liberation Serif", serif' font-size="9.8" fill="#111" text-anchor="start" font-weight="normal" stroke="#111" stroke-width="0.2"  textLength="68.8" lengthAdjust="spacingAndGlyphs">Zhang et al, 2016</text>
<defs><clipPath id="cpC"><rect x="382.5" y="87.5" width="173.0" height="182.0"/></clipPath>
<linearGradient id="cbar" x1="0" y1="0" x2="0" y2="1"><stop offset="0" stop-color="#fbf52c"/><stop offset="0.25" stop-color="#f7e636"/><stop offset="0.45" stop-color="#f1c843"/><stop offset="0.58" stop-color="#eaa541"/><stop offset="0.70" stop-color="#e27432"/><stop offset="0.78" stop-color="#dc0c0c"/><stop offset="0.88" stop-color="#7e0000"/><stop offset="1" stop-color="#0c0000"/></linearGradient></defs>
<rect x="382.5" y="87.5" width="173.0" height="182.0" fill="none" stroke="#555" stroke-width="1"/>
<line x1="405.5" y1="269.5" x2="405.5" y2="266.5" stroke="#555"/>
<line x1="405.5" y1="87.5" x2="405.5" y2="90.5" stroke="#555"/>
<line x1="442.5" y1="269.5" x2="442.5" y2="266.5" stroke="#555"/>
<line x1="442.5" y1="87.5" x2="442.5" y2="90.5" stroke="#555"/>
<line x1="480.5" y1="269.5" x2="480.5" y2="266.5" stroke="#555"/>
<line x1="480.5" y1="87.5" x2="480.5" y2="90.5" stroke="#555"/>
<line x1="518.5" y1="269.5" x2="518.5" y2="266.5" stroke="#555"/>
<line x1="518.5" y1="87.5" x2="518.5" y2="90.5" stroke="#555"/>
<line x1="378.6" y1="105.5" x2="382.5" y2="105.5" stroke="#555"/>
<line x1="378.6" y1="136.5" x2="382.5" y2="136.5" stroke="#555"/>
<line x1="378.6" y1="167.5" x2="382.5" y2="167.5" stroke="#555"/>
<line x1="378.6" y1="257.5" x2="382.5" y2="257.5" stroke="#555"/>
<g clip-path="url(#cpC)">
<path d="M381.9,256.9 L382.9,257.5 L383.7,257.1 L384.5,257.4 L385.1,257.3 L385.9,258.3 L386.9,257.3 L387.5,258.2 L388.3,257.2 L389.1,257.6 L390,258.8 L390.7,258.7 L391.7,258.4 L392.6,256.9 L393.4,256.7 L394,257 L395.1,257.2 L395.7,257.5 L396.8,256.3 L397.5,256.8 L398.5,255.7 L399.2,257.1 L400,256.5 L400.9,256.1 L401.6,256.2 L402.5,255.8 L403.4,255.8 L404.2,256.5 L405.1,256.8 L405.9,255.6 L406.8,256.8 L407.6,256.5 L408.3,256 L409.2,255.4 L410.1,256.7 L410.7,256.2 L411.7,254.7 L412.3,255.3 L413.1,254.5 L414,254.8 L414.9,252.7 L415.6,249.8 L416.4,248.2 L417.3,247.2 L418.1,244.7 L419.1,242.8 L419.9,239.4 L420.6,235.4 L421.4,232 L422.1,228.3 L423.1,223.2 L423.9,217.5 L424.9,211.4 L426,205.3 L427,200.5 L428.3,193.4 L429.1,193.9 L430,194.4 L431,196.6 L431.9,198.5 L433,201.8 L434,200.7 L435,198.2 L436.1,196.9 L436.9,197.1 L437.5,196.6 L438.3,197.6 L439.3,196.6 L439.9,195.4 L440.7,195.6 L441.8,195.8 L442.7,195.8 L443.4,195.1 L444.3,194.8 L445,194.9 L445.8,193.9 L446.8,193.9 L447.6,193.6 L448.4,193 L449.5,192.2 L450.2,192.3 L451.1,192.3 L451.9,193.8 L452.9,193.1 L453.7,194.1 L454.5,194.3 L455.4,193.8 L456.2,195.5 L457.2,194.7 L458,195.4 L458.9,196.6 L459.6,195.7 L460.6,196.1 L461.3,196.8 L462.2,198.2 L463,198.6 L464.1,198.4 L464.9,198.7 L465.5,199 L466.5,197.5 L467.3,196.6 L468.1,197.5 L468.7,197.2 L469.7,196.8 L470.3,196.1 L471.3,195 L471.9,193.9 L472.8,194.5 L473.6,195 L474.5,195 L475.5,194.8 L476.3,196.4 L477.4,196.2 L478.1,196.4 L479.2,197.2 L480.1,196.2 L480.9,197.1 L481.8,197.3 L482.4,199.4 L483.2,199 L484.1,200.6 L485.1,201.3 L485.7,199 L486.6,199.5 L487.5,199 L488.4,196.7 L489.1,196.2 L489.9,196.3 L490.9,195.3 L491.6,194.4 L492.5,192.9 L493.6,190.5 L494.4,191 L495.1,189 L496.1,187.6 L497,188 L498,188.9 L499,190.9 L500.1,190.6 L500.7,191.8 L501.7,192.8 L502.4,193.9 L503.2,195.2 L504,196.8 L504.9,197.4 L505.6,197 L506.6,197.4 L507.3,199.5 L508.3,198.8 L509.1,199.1 L509.9,200.1 L510.7,200 L511.5,200.4 L512.5,201.6 L513.1,202.1 L514,201.5 L514.9,201 L515.6,200.7 L516.4,201.4 L517.5,201.5 L518.2,201.4 L519.1,200.6 L520,200 L520.9,200.6 L521.8,199.8 L522.7,200.1 L523.5,200.4 L524.3,198.5 L525.4,200 L526.1,199.6 L527.1,198.3 L527.9,198.9 L528.8,198.4 L529.4,198.6 L530.3,198.5 L531,197.9 L532.1,196.7 L532.7,196.9 L533.7,196.9 L534.5,196.1 L535.4,197 L536.2,195.6 L537.1,194.9 L537.8,195.8 L538.7,195.3 L539.5,194.5 L540.4,193.4 L541.1,193.9 L542,193.3 L542.6,193.3 L543.6,193.2 L544.5,192.8 L545.1,192.8 L546,191.3 L546.8,191.7 L547.8,193.3 L548.6,193.6 L549.3,193.5 L550.4,192.7 L551.1,192.7 L551.9,193.5 L552.8,194.3 L553.8,195.8 L554.5,196.6 L555.5,197.5" fill="none" stroke="#000000" stroke-width="2.4" stroke-linejoin="round"/>
<path d="M382,240.5 L383,241.8 L383.6,241.4 L384.4,240.6 L385.2,241.5 L386,242.1 L386.8,240.7 L387.6,241.8 L388.5,241.3 L389.3,241.7 L390.2,240.9 L391,241.1 L391.7,242.1 L392.7,241.9 L393.6,241.4 L394.2,241.5 L395.1,242 L395.8,241.7 L396.7,241.5 L397.4,242.2 L398.2,242 L399.1,241.1 L399.9,241.2 L400.7,242.4 L401.7,242 L402.5,242.3 L403.3,243.1 L404.1,243.2 L405.1,242.9 L405.7,242 L406.5,242.5 L407.6,243.6 L408.4,242.3 L409.2,243.6 L410.1,243.7 L410.7,242.1 L411.8,242.6 L412.7,241.6 L413.5,240.6 L414.4,241.4 L415.1,239.4 L416,240 L416.8,236.3 L417.5,235.1 L418.3,232.7 L419.1,228.8 L419.9,227.7 L420.9,222.7 L421.5,219.6 L422.5,214.6 L423.2,212.4 L424,208.1 L424.9,203.5 L425.5,200.3 L426.4,196.1 L427.2,192.8 L427.9,188.3 L429,187 L429.5,185.8 L430.4,184.8 L431.2,184.2 L432.1,183.6 L433,183.1 L433.9,182.8 L434.8,183.4 L435.5,183.6 L436.4,184.1 L437.4,183.5 L438.2,184.1 L439.1,183.6 L439.9,185.6 L440.9,184.3 L441.7,183.7 L442.6,184.6 L443.4,183.4 L444.3,183.9 L444.9,182.6 L445.8,182.1 L446.7,181.5 L447.6,182.5 L448.2,181.9 L449.1,181.5 L450.1,181.8 L450.9,180 L451.7,179.1 L452.6,179.1 L453.3,178.2 L454.1,178.6 L454.9,177 L455.7,177.1 L456.7,178.1 L457.5,178.9 L458.3,177.6 L459.1,178.7 L460.1,179.7 L460.8,178.8 L461.7,180.5 L462.4,180.9 L463.5,180.6 L464.2,180.2 L464.9,180.5 L465.9,182.1 L466.8,182.3 L467.6,182.3 L468.2,182.1 L469.1,183.4 L470.1,183.3 L470.7,184.3 L471.6,184.2 L472.3,184.9 L473.3,184.9 L474.1,184.3 L474.7,184.4 L475.7,184.9 L476.3,184.5 L477.1,185.2 L478.1,186.2 L478.9,185.7 L479.5,185.5 L480.3,184.8 L481.1,185.3 L481.9,184.5 L482.8,184.4 L483.7,183.6 L484.5,184.4 L485.2,184.3 L486.1,182.4 L486.9,182.2 L487.6,182.5 L488.5,181.6 L489.3,181.4 L489.9,181.1 L490.7,182.7 L491.8,182.4 L492.4,181.8 L493.4,181.7 L494.1,182 L495.1,181.3 L495.8,180.6 L496.7,180.7 L497.5,181.3 L498.3,181 L499,180.2 L500.1,179.1 L500.9,179.7 L501.7,180.3 L502.4,180.9 L503.3,179.5 L504.1,179.5 L504.9,180.8 L505.7,180.4 L506.8,180.3 L507.6,181 L508.2,179.7 L509.3,181.2 L510.1,181 L510.8,181.6 L511.7,181.5 L512.6,180.4 L513.4,181.6 L514,181.2 L515.1,181.9 L515.9,181.6 L516.7,182.9 L517.6,182.5 L518.4,181.9 L519.1,182.9 L520.1,182.3 L520.7,183.1 L521.6,182.5 L522.4,183.1 L523.4,182.8 L524.3,182.7 L524.9,183.9 L525.7,183.3 L526.6,183.2 L527.6,183.2 L528.4,184.7 L529.1,184.7 L529.9,184.6 L530.9,183.7 L531.8,184.2 L532.4,183.9 L533.3,183.2 L534.3,184.4 L534.9,184.1 L535.9,182.4 L536.5,183.1 L537.6,183.7 L538.3,182.8 L539.3,182.3 L539.9,182.5 L540.9,183.3 L541.8,181.6 L542.4,181.7 L543.4,182.1 L544.3,182.3 L545,182.3 L545.7,182.6 L546.7,182.4 L547.5,181.2 L548.1,181.4 L549.1,181.1 L550,182.2 L550.7,181.4 L551.4,181.9 L552.2,181.3 L553.2,181.5 L553.8,181.8 L554.6,180.9 L555.5,181" fill="none" stroke="#7a0e10" stroke-width="2.4" stroke-linejoin="round"/>
<path d="M381.9,225.2 L382.7,225.4 L383.7,224.9 L384.5,225.2 L385.1,225.2 L386.1,225.2 L387,225.6 L387.7,224.7 L388.4,225.8 L389.4,225.5 L390.2,225.3 L390.9,225.4 L391.7,225.6 L392.7,225.7 L393.4,224.7 L394.2,225.8 L395.1,226 L395.9,225.4 L396.8,225 L397.5,225.8 L398.4,225.5 L399.2,225.6 L400.1,226.4 L400.9,226.2 L401.6,227 L402.4,226.6 L403.3,227 L404,227.3 L404.8,227.8 L405.6,227.4 L406.5,227.6 L407.2,228.6 L408.1,227.4 L408.7,228.3 L409.8,227.1 L410.5,227.3 L411.6,226.2 L412.3,226.6 L413.1,225.9 L413.9,225.7 L414.7,222.8 L415.6,220.8 L416.3,218.7 L417.2,216.8 L418.1,214.8 L418.9,209.8 L419.9,206.1 L420.9,200.9 L422.1,196.9 L423,192.3 L424,186.5 L424.9,181.6 L426.1,177.1 L427.1,173.3 L428,171.4 L428.5,170.1 L429.4,169.7 L430.4,169.2 L431.2,168.2 L432,166.4 L432.9,166.2 L433.7,167.2 L434.5,166.2 L435.1,168 L435.9,167.3 L436.8,167.5 L437.7,168.5 L438.4,167.3 L439.3,168 L439.9,167.6 L440.7,168.1 L441.6,167.8 L442.6,167.3 L443.5,166.3 L444.2,167.2 L445.1,165.6 L445.8,166.2 L446.7,165.7 L447.4,166.2 L448.4,165.5 L449.3,164.9 L449.9,164.8 L450.7,164.6 L451.7,163.2 L452.4,162.6 L453.2,163.9 L454.1,163.3 L454.9,162 L455.8,161.6 L456.8,161 L457.5,160.6 L458.2,161.1 L459.1,160.4 L460.1,159.3 L460.7,160.8 L461.8,160 L462.5,162.2 L463.4,162.7 L464.2,163.1 L464.9,162.6 L465.9,163 L466.6,163.5 L467.5,164.6 L468.5,164 L469.1,165.5 L470.1,166 L470.9,166.4 L471.8,166.2 L472.4,165.4 L473.4,167.1 L474.3,166.3 L475.1,167.7 L475.7,166.4 L476.6,167 L477.6,168.3 L478.4,168.3 L479.3,169.1 L480,169.3 L480.9,168 L481.7,167.8 L482.5,168.9 L483.2,168.4 L484.1,167.9 L484.9,168.3 L485.8,167.5 L486.6,168.5 L487.4,168.6 L488.2,168 L489.1,168.7 L490.1,168.4 L490.8,167.5 L491.8,167.6 L492.5,167.8 L493.2,167 L494.3,166.7 L495.1,166.1 L495.7,166.5 L496.6,166.5 L497.6,165.3 L498.3,165.7 L499.3,166.3 L500.1,165.9 L500.8,165.5 L501.7,164.8 L502.4,165.1 L503.5,164.1 L504.1,163.8 L505,163.9 L505.7,164.2 L506.6,164.3 L507.4,163.9 L508.5,162.7 L509.1,163.9 L510,162.5 L510.7,163.5 L511.6,163.6 L512.5,162.4 L513.5,163.8 L514.2,163.3 L515.1,164 L515.7,162.8 L516.7,163.2 L517.6,164 L518.3,162.9 L519.2,163.7 L520,164.1 L520.8,164.4 L521.7,163.1 L522.6,163.2 L523.5,164.6 L524.1,163.4 L525.1,163.9 L525.8,164.6 L526.6,163.6 L527.5,165.1 L528.5,163.8 L529.2,164.4 L530.1,164.6 L530.7,164.7 L531.7,164.5 L532.6,164.9 L533.4,164.9 L534.2,165.8 L534.9,165.3 L535.9,165.6 L536.6,166.2 L537.6,166.7 L538.4,166.9 L539.3,167.1 L540.1,166.8 L540.9,166.4 L541.5,167.5 L542.4,166.5 L543.3,167.4 L544.2,166.4 L545,168 L545.9,168.1 L546.5,168.1 L547.4,168.1 L548.3,167.4 L548.9,168.2 L549.9,168.6 L550.6,167.8 L551.3,168.7 L552.2,167.5 L552.9,169 L553.8,168.9 L554.6,168.5 L555.5,168.6" fill="none" stroke="#dc1616" stroke-width="2.4" stroke-linejoin="round"/>
<path d="M382.1,206.9 L382.9,207.5 L383.6,206.3 L384.5,206.4 L385.2,207.8 L386.2,206.5 L386.8,206.7 L387.8,206.3 L388.5,206.5 L389.3,207.3 L390.1,207.1 L391.1,207.7 L391.8,207.8 L392.7,207.9 L393.4,207.1 L394.3,208.2 L395.1,207.4 L395.8,207.1 L396.6,208.4 L397.7,208.2 L398.4,207.9 L399.1,207.5 L399.9,207.5 L400.8,207.2 L401.9,207.6 L402.7,209 L403.4,209 L404.5,210.2 L405.3,210.2 L406.2,209.7 L407,210.6 L407.8,210.6 L408.7,210.2 L409.4,209.3 L410.3,209.4 L411.4,208.8 L412.2,208.6 L412.9,207.9 L414,206.8 L415,204.9 L415.9,203.5 L417.1,197.2 L418.1,192.3 L419,185.7 L419.9,178.8 L420.9,168.8 L422.1,159.2 L423.5,148.7 L424.5,147.2 L425.1,145.5 L426,143.9 L426.7,145.3 L427.7,144 L428.4,144.1 L429.4,144.1 L430.2,144.8 L430.9,143.9 L431.7,144.1 L432.6,143.9 L433.5,144 L434.1,144.6 L435.1,144.3 L435.9,145.1 L436.8,143.9 L437.5,144.4 L438.3,145.2 L439.2,146.4 L440.2,146 L440.8,147.8 L441.9,147.4 L442.5,146.9 L443.6,148.1 L444.4,149 L445.2,149.4 L445.9,148.8 L446.8,149.5 L447.7,149.2 L448.4,148.5 L449.1,148.6 L450,148 L450.9,148.6 L451.7,146.7 L452.3,147.3 L453.3,146.4 L454.1,146.4 L454.9,145.4 L455.5,145 L456.5,145.6 L457.3,145.5 L457.9,144.7 L458.8,144.6 L459.5,145.5 L460.4,145.2 L461.3,145 L462,145.2 L462.8,145.9 L463.5,145.6 L464.4,146.1 L465.2,146.8 L466.1,146.3 L466.9,146.7 L467.8,146.5 L468.4,145.7 L469.4,146.3 L470.3,146.8 L471,147.1 L471.9,147.1 L472.7,146.8 L473.3,146.3 L474.1,147.8 L475,146.4 L475.7,147.1 L476.6,146.8 L477.3,146.6 L478.3,147.4 L479.1,146.5 L479.9,146.3 L480.6,147.6 L481.4,146.4 L482.2,147.4 L483.1,146.8 L484,146.5 L484.8,147 L485.4,146 L486.3,146.3 L487.2,146.7 L488,146.5 L488.6,146.7 L489.7,146.5 L490.4,145.7 L491,146 L492,146.5 L492.7,146.1 L493.4,145.1 L494.2,145.6 L495.1,145.2 L495.9,145.5 L496.9,146.5 L497.7,146.1 L498.2,145.1 L499.3,145.9 L500.1,145 L500.7,144.8 L501.6,145.4 L502.4,145.1 L503.1,145.6 L504.1,146.1 L504.8,145.1 L505.6,145.7 L506.4,145.9 L507.3,145.7 L508.1,145.3 L508.7,146.8 L509.7,146 L510.3,147.2 L511.2,145.7 L512.1,146.6 L512.7,146.6 L513.6,146.8 L514.4,146.5 L515.3,146.4 L516.1,147.3 L516.9,146.3 L517.7,147.4 L518.3,147.8 L519.2,146.6 L519.9,148.1 L520.9,146.8 L521.8,146.5 L522.6,147.6 L523.4,148.2 L524.2,148.2 L525,148.4 L525.8,148.1 L526.7,147.6 L527.6,148.2 L528.2,148 L529.2,148.1 L529.9,148.4 L530.8,148.6 L531.6,147.6 L532.5,148.9 L533.4,149 L534.3,148.5 L534.9,149.2 L535.9,150 L536.5,150 L537.5,150.1 L538.2,149.6 L539.2,150.2 L540.1,150.7 L540.8,150.3 L541.7,151.1 L542.4,152.2 L543.3,152 L544.2,152.4 L544.9,152.8 L545.8,151.5 L546.6,151.4 L547.4,151.6 L548.1,152.3 L549.1,153 L550,153.1 L550.7,152.9 L551.6,152.1 L552.3,153 L552.9,153.7 L553.9,152.8 L554.8,153.2 L555.5,153.3" fill="none" stroke="#e8891f" stroke-width="2.4" stroke-linejoin="round"/>
<path d="M382.1,190.7 L382.9,189.5 L383.6,190.4 L384.5,189.2 L385.2,190.8 L385.9,190.4 L386.8,190.4 L387.8,190.4 L388.5,189.9 L389.3,190.5 L390.1,190.3 L390.9,189.9 L391.7,190.5 L392.4,190.6 L393.5,191 L394.1,190.3 L395.1,190.2 L396,190 L396.8,189.8 L397.6,191.2 L398.3,191 L399.3,191.7 L399.9,190.9 L400.7,190.7 L401.6,190.4 L402.5,190.3 L403.2,190.2 L404.3,190.7 L404.9,191.4 L405.9,191.2 L406.8,190.8 L407.7,190.2 L408.6,190.6 L409.5,190.8 L410.4,189.9 L411.1,190 L412,188.6 L413.1,186.4 L414,184.4 L414.9,182.1 L416,175.6 L417,167.7 L418,163.3 L418.9,157.5 L419.7,151.6 L420.5,147.9 L421.4,145.2 L422.2,142.5 L423.1,139.8 L424.1,136.8 L424.7,134 L425.6,133.2 L426.5,132.1 L427.2,131.5 L428,131.1 L429,129.1 L429.8,129 L430.6,127.8 L431.4,127.6 L432.4,127.8 L433.1,128.1 L433.9,126.9 L435,127.7 L435.7,125.9 L436.6,126.4 L437.3,126.1 L438.4,125.3 L439.1,125.3 L440.1,125.4 L440.9,125.9 L441.5,125.4 L442.4,126 L443.3,125.1 L444.3,125.8 L444.9,124.4 L445.8,124.7 L446.6,124.8 L447.6,125.2 L448.5,125 L449.1,124.8 L449.9,124.7 L450.7,125.2 L451.6,125.1 L452.4,123.8 L453.3,124.8 L454.3,124.5 L455,123.4 L455.8,123.2 L456.8,123.5 L457.6,123.4 L458.3,124.5 L459.1,123.6 L460.1,124.1 L460.7,125 L461.8,124.7 L462.4,124.6 L463.4,124.4 L464.1,125.4 L465,125.6 L466,125.2 L466.8,124.7 L467.5,125.8 L468.5,125.7 L469.1,126.6 L470,125.3 L470.8,125.8 L471.7,127 L472.4,126.3 L473.5,127.3 L474.3,126.8 L475.1,127.8 L475.9,127.4 L476.7,126.8 L477.4,126.8 L478.2,127.9 L479.3,128.2 L480.1,128.7 L481,127.6 L481.7,128.5 L482.4,127.9 L483.3,126.7 L484.1,126.9 L484.9,127.6 L485.8,126.3 L486.8,125.6 L487.6,126.2 L488.2,125.9 L489.3,125.1 L489.9,125.1 L490.9,125 L491.8,125.2 L492.6,124.6 L493.3,124.3 L494,124.4 L495,125 L495.9,124.2 L496.7,125.5 L497.4,124 L498.2,125.1 L499.2,124.2 L500,123.3 L500.8,124.3 L501.6,123.8 L502.6,123 L503.3,124 L504.2,123.9 L505.1,123.3 L505.8,123.4 L506.8,123 L507.4,123.1 L508.4,123.1 L509.1,124.2 L510.1,124 L510.9,124.7 L511.6,123.7 L512.6,124.8 L513.5,125.1 L514,124.4 L514.9,125.5 L515.8,124.7 L516.6,125 L517.5,125.9 L518.4,125 L519.2,126.7 L520,125.3 L520.9,126.7 L521.5,125.4 L522.4,126 L523.2,125.6 L524.1,127.2 L525,126.1 L526,126.2 L526.6,126 L527.4,127.5 L528.3,127.7 L529.2,126.1 L530,126.7 L530.7,126.1 L531.7,127.4 L532.6,126.2 L533.4,126.1 L534.3,127.2 L534.9,125.7 L535.9,127.1 L536.8,125.3 L537.5,126.4 L538.4,125.9 L539.2,124.9 L540,126.4 L540.8,125.2 L541.6,126.1 L542.6,126.1 L543.5,125.5 L544.3,125.6 L545.1,124.7 L545.9,125.5 L546.5,125.5 L547.5,124.9 L548.2,125.9 L548.9,124.4 L549.8,124.6 L550.8,126.1 L551.4,125.1 L552.3,126.1 L553.1,126.2 L553.8,125.5 L554.7,126.1 L555.5,125.7" fill="none" stroke="#e7e62e" stroke-width="2.4" stroke-linejoin="round"/>
</g>
<rect x="555.5" y="87" width="12" height="182.2" fill="url(#cbar)"/>
<line x1="567.6" y1="87" x2="567.6" y2="269.2" stroke="#666" stroke-width="0.8"/>
<line x1="555.5" y1="87" x2="555.5" y2="269.5" stroke="#555" stroke-width="1"/>
<line x1="567.5" y1="116.2" x2="570.6" y2="116.2" stroke="#444"/>
<line x1="567.5" y1="154.1" x2="570.6" y2="154.1" stroke="#444"/>
<line x1="567.5" y1="192" x2="570.6" y2="192" stroke="#444"/>
<line x1="567.5" y1="230.2" x2="570.6" y2="230.2" stroke="#444"/>
<line x1="567.5" y1="268.2" x2="570.6" y2="268.2" stroke="#444"/>
<line x1="567.5" y1="97" x2="569.5" y2="97" stroke="#444"/>
<line x1="567.5" y1="135" x2="569.5" y2="135" stroke="#444"/>
<line x1="567.5" y1="173" x2="569.5" y2="173" stroke="#444"/>
<line x1="567.5" y1="211" x2="569.5" y2="211" stroke="#444"/>
<line x1="567.5" y1="249" x2="569.5" y2="249" stroke="#444"/>
<text x="575.4" y="85.8" font-family='"Liberation Sans", sans-serif' font-size="10" fill="#111" text-anchor="start" font-weight="normal" stroke="#111" stroke-width="0.35"  textLength="22.6" lengthAdjust="spacingAndGlyphs">T (K)</text>
<text x="578.3" y="121.5" font-family='"Liberation Sans", sans-serif' font-size="10.5" fill="#111" text-anchor="start" font-weight="normal" stroke="#111" stroke-width="0.35" >16000</text>
<text x="578.3" y="158.5" font-family='"Liberation Sans", sans-serif' font-size="10.5" fill="#111" text-anchor="start" font-weight="normal" stroke="#111" stroke-width="0.35" >12000</text>
<text x="578.3" y="196.3" font-family='"Liberation Sans", sans-serif' font-size="10.5" fill="#111" text-anchor="start" font-weight="normal" stroke="#111" stroke-width="0.35" >8000</text>
<text x="578.3" y="234.5" font-family='"Liberation Sans", sans-serif' font-size="10.5" fill="#111" text-anchor="start" font-weight="normal" stroke="#111" stroke-width="0.35" >4000</text>
<text x="578.3" y="272.5" font-family='"Liberation Sans", sans-serif' font-size="10.5" fill="#111" text-anchor="start" font-weight="normal" stroke="#111" stroke-width="0.35" >0</text>
<text x="402.6" y="112.9" font-family='"Liberation Sans", sans-serif' font-size="11.7" fill="#e7e76a" text-anchor="start" font-weight="bold" stroke="#e7e76a" stroke-width="0" >liquid</text>
<text x="465.2" y="179.4" font-family='"Liberation Sans", sans-serif' font-size="12.9" fill="#880c2e" text-anchor="start" font-weight="bold" stroke="#880c2e" stroke-width="0" >hcp</text>
<text x="438.8" y="216.5" font-family='"Liberation Sans", sans-serif' font-size="10.9" fill="#111" text-anchor="start" font-weight="normal" stroke="#111" stroke-width="0.35"  textLength="17.8" lengthAdjust="spacingAndGlyphs">bcc</text>
<text x="499.8" y="217.8" font-family='"Liberation Sans", sans-serif' font-size="10.6" fill="#111" text-anchor="start" font-weight="normal" stroke="#111" stroke-width="0.35"  textLength="38.8" lengthAdjust="spacingAndGlyphs">ambient</text>
<text x="400.4" y="285.2" font-family='"Liberation Sans", sans-serif' font-size="12.5" fill="#111" text-anchor="middle" font-weight="normal" stroke="#111" stroke-width="0.35" >7.1</text>
<text x="476.3" y="285.2" font-family='"Liberation Sans", sans-serif' font-size="12.5" fill="#111" text-anchor="middle" font-weight="normal" stroke="#111" stroke-width="0.35" >7.2</text>
<text x="551.2" y="285.2" font-family='"Liberation Sans", sans-serif' font-size="12.5" fill="#111" text-anchor="middle" font-weight="normal" stroke="#111" stroke-width="0.35" >7.3</text>
<text x="438.8" y="299.6" font-family='"Liberation Sans", sans-serif' font-size="13.4" fill="#111" text-anchor="start" font-weight="normal" stroke="#111" stroke-width="0.35"  textLength="78.6" lengthAdjust="spacingAndGlyphs">Energy (keV)</text>
<text x="361.2" y="178" font-family='"Liberation Sans", sans-serif' font-size="10.7" fill="#111" text-anchor="middle" font-weight="normal" stroke="#111" stroke-width="0.35" >(GPa)</text>
<text x="365.3" y="194.4" font-family='"Liberation Sans", sans-serif' font-size="10.7" fill="#111" text-anchor="middle" font-weight="normal" stroke="#111" stroke-width="0.35" >500</text>
<text x="365.3" y="210.9" font-family='"Liberation Sans", sans-serif' font-size="10.7" fill="#111" text-anchor="middle" font-weight="normal" stroke="#111" stroke-width="0.35" >270</text>
<text x="365.1" y="228.7" font-family='"Liberation Sans", sans-serif' font-size="10.7" fill="#111" text-anchor="middle" font-weight="normal" stroke="#111" stroke-width="0.35" >170</text>
<text x="366.4" y="246.4" font-family='"Liberation Sans", sans-serif' font-size="10.7" fill="#111" text-anchor="middle" font-weight="normal" stroke="#111" stroke-width="0.35" >120</text>
<text x="364.9" y="260.8" font-family='"Liberation Sans", sans-serif' font-size="10.7" fill="#111" text-anchor="middle" font-weight="normal" stroke="#111" stroke-width="0.35" >0</text>
<defs><clipPath id="cpN"><rect x="78.5" y="194.5" width="119.0" height="151.0"/></clipPath></defs>
<line x1="111.6" y1="200.5" x2="111.6" y2="342.5" stroke="#b4b4b4" stroke-width="1.3" stroke-dasharray="1.8,2.4"/>
<line x1="130.9" y1="200.5" x2="130.9" y2="342.5" stroke="#b4b4b4" stroke-width="1.3" stroke-dasharray="1.8,2.4"/>
<rect x="78.5" y="194.5" width="119.0" height="151.0" fill="none" stroke="#999" stroke-width="1"/>
<line x1="80.5" y1="194.5" x2="80.5" y2="197.5" stroke="#999"/>
<line x1="80.5" y1="345.5" x2="80.5" y2="342.5" stroke="#999"/>
<line x1="104.5" y1="194.5" x2="104.5" y2="197.5" stroke="#999"/>
<line x1="104.5" y1="345.5" x2="104.5" y2="342.5" stroke="#999"/>
<line x1="127.5" y1="194.5" x2="127.5" y2="197.5" stroke="#999"/>
<line x1="127.5" y1="345.5" x2="127.5" y2="342.5" stroke="#999"/>
<line x1="151.5" y1="194.5" x2="151.5" y2="197.5" stroke="#999"/>
<line x1="151.5" y1="345.5" x2="151.5" y2="342.5" stroke="#999"/>
<line x1="174.5" y1="194.5" x2="174.5" y2="197.5" stroke="#999"/>
<line x1="174.5" y1="345.5" x2="174.5" y2="342.5" stroke="#999"/>
<line x1="78.5" y1="194.5" x2="81.5" y2="194.5" stroke="#999"/>
<line x1="197.5" y1="194.5" x2="194.5" y2="194.5" stroke="#999"/>
<text x="77.8" y="197.9" font-family='"Liberation Sans", sans-serif' font-size="9.8" fill="#111" text-anchor="end" font-weight="normal" stroke="#111" stroke-width="0.2" >0.40</text>
<line x1="78.5" y1="211.5" x2="81.5" y2="211.5" stroke="#999"/>
<line x1="197.5" y1="211.5" x2="194.5" y2="211.5" stroke="#999"/>
<text x="77.8" y="214.6" font-family='"Liberation Sans", sans-serif' font-size="9.8" fill="#111" text-anchor="end" font-weight="normal" stroke="#111" stroke-width="0.2" >0.35</text>
<line x1="78.5" y1="228.5" x2="81.5" y2="228.5" stroke="#999"/>
<line x1="197.5" y1="228.5" x2="194.5" y2="228.5" stroke="#999"/>
<text x="77.8" y="231.2" font-family='"Liberation Sans", sans-serif' font-size="9.8" fill="#111" text-anchor="end" font-weight="normal" stroke="#111" stroke-width="0.2" >0.30</text>
<line x1="78.5" y1="244.5" x2="81.5" y2="244.5" stroke="#999"/>
<line x1="197.5" y1="244.5" x2="194.5" y2="244.5" stroke="#999"/>
<text x="77.8" y="247.9" font-family='"Liberation Sans", sans-serif' font-size="9.8" fill="#111" text-anchor="end" font-weight="normal" stroke="#111" stroke-width="0.2" >0.25</text>
<line x1="78.5" y1="261.5" x2="81.5" y2="261.5" stroke="#999"/>
<line x1="197.5" y1="261.5" x2="194.5" y2="261.5" stroke="#999"/>
<text x="77.8" y="264.5" font-family='"Liberation Sans", sans-serif' font-size="9.8" fill="#111" text-anchor="end" font-weight="normal" stroke="#111" stroke-width="0.2" >0.20</text>
<line x1="78.5" y1="278.5" x2="81.5" y2="278.5" stroke="#999"/>
<line x1="197.5" y1="278.5" x2="194.5" y2="278.5" stroke="#999"/>
<text x="77.8" y="281.2" font-family='"Liberation Sans", sans-serif' font-size="9.8" fill="#111" text-anchor="end" font-weight="normal" stroke="#111" stroke-width="0.2" >0.15</text>
<line x1="78.5" y1="294.5" x2="81.5" y2="294.5" stroke="#999"/>
<line x1="197.5" y1="294.5" x2="194.5" y2="294.5" stroke="#999"/>
<text x="77.8" y="297.9" font-family='"Liberation Sans", sans-serif' font-size="9.8" fill="#111" text-anchor="end" font-weight="normal" stroke="#111" stroke-width="0.2" >0.10</text>
<line x1="78.5" y1="311.5" x2="81.5" y2="311.5" stroke="#999"/>
<line x1="197.5" y1="311.5" x2="194.5" y2="311.5" stroke="#999"/>
<text x="77.8" y="314.5" font-family='"Liberation Sans", sans-serif' font-size="9.8" fill="#111" text-anchor="end" font-weight="normal" stroke="#111" stroke-width="0.2" >0.05</text>
<line x1="78.5" y1="328.5" x2="81.5" y2="328.5" stroke="#999"/>
<line x1="197.5" y1="328.5" x2="194.5" y2="328.5" stroke="#999"/>
<text x="77.8" y="331.2" font-family='"Liberation Sans", sans-serif' font-size="9.8" fill="#111" text-anchor="end" font-weight="normal" stroke="#111" stroke-width="0.2" >0.00</text>
<line x1="78.5" y1="344.5" x2="81.5" y2="344.5" stroke="#999"/>
<line x1="197.5" y1="344.5" x2="194.5" y2="344.5" stroke="#999"/>
<text x="77.8" y="347.8" font-family='"Liberation Sans", sans-serif' font-size="9.8" fill="#111" text-anchor="end" font-weight="normal" stroke="#111" stroke-width="0.2" >−0.05</text>
<text x="80.8" y="353.2" font-family='"Liberation Sans", sans-serif' font-size="9.2" fill="#111" text-anchor="middle" font-weight="normal" stroke="#111" stroke-width="0.2" >3</text>
<text x="104.3" y="353.2" font-family='"Liberation Sans", sans-serif' font-size="9.2" fill="#111" text-anchor="middle" font-weight="normal" stroke="#111" stroke-width="0.2" >4</text>
<text x="127.8" y="353.2" font-family='"Liberation Sans", sans-serif' font-size="9.2" fill="#111" text-anchor="middle" font-weight="normal" stroke="#111" stroke-width="0.2" >5</text>
<text x="151.3" y="353.2" font-family='"Liberation Sans", sans-serif' font-size="9.2" fill="#111" text-anchor="middle" font-weight="normal" stroke="#111" stroke-width="0.2" >6</text>
<text x="174.8" y="353.2" font-family='"Liberation Sans", sans-serif' font-size="9.2" fill="#111" text-anchor="middle" font-weight="normal" stroke="#111" stroke-width="0.2" >7</text>
<text x="198.3" y="353.2" font-family='"Liberation Sans", sans-serif' font-size="9.2" fill="#111" text-anchor="middle" font-weight="normal" stroke="#111" stroke-width="0.2" >8</text>
<text x="126.1" y="192.9" font-family='"Liberation Sans", sans-serif' font-size="9.3" fill="#111" text-anchor="start" font-weight="normal" stroke="#111" stroke-width="0.15" >Nickel</text>
<g clip-path="url(#cpN)">
<path d="M90.2,215.6 L90.6,214.9 L91,214.9 L91.4,213.7 L91.8,212.8 L92.2,212.7 L92.6,212.3 L93,211 L93.4,210 L93.8,209.7 L94.2,208.7 L94.6,208.1 L95,207.3 L95.4,207.6 L95.8,206.5 L96.2,206.7 L96.6,206.3 L97,205.4 L97.4,204.6 L97.8,204.7 L98.2,205.8 L98.6,206 L99,204.7 L99.4,204.3 L99.8,202.7 L100.2,201.8 L100.6,201.9 L101,202 L101.4,202.3 L101.8,203.2 L102.2,202.9 L102.6,202.9 L103,202.7 L103.4,201.5 L103.8,202.9 L104.2,203.5 L104.6,203.9 L105,204.6 L105.4,204.5 L105.8,204.4 L106.2,205.3 L106.6,205.4 L107,205.7 L107.4,206 L107.8,206.5 L108.2,207.8 L108.6,208.1 L109,207.5 L109.4,208.9 L109.8,209.4 L110.2,208.2 L110.6,210.7 L111,212 L111.4,212.6 L111.8,214.6 L112.2,212.6 L112.6,213.4 L113,213.9 L113.4,215.5 L113.8,216.5 L114.2,217.2 L114.6,218.5 L115,218.9 L115.4,218.9 L115.8,218.7 L116.2,218.6 L116.6,219.6 L117,220.7 L117.4,220.9 L117.8,222.2 L118.2,225.3 L118.6,223.9 L119,223.7 L119.4,223.3 L119.8,224.2 L120.2,224.6 L120.6,225.4 L121,225.6 L121.4,225.2 L121.8,225.5 L122.2,225.1 L122.6,225.5 L123,225.9 L123.4,226.3 L123.8,226.1 L124.2,225.3 L124.6,227.3 L125,225.8 L125.4,224.1 L125.8,222.8 L126.2,223.4 L126.6,223.4 L127,222.8 L127.4,223.1 L127.8,222.3 L128.2,221.4 L128.6,221.3 L129,220.8 L129.4,222.1 L129.8,223 L130.2,222.4 L130.6,222.4 L131,218.5 L131.4,219.4 L131.8,219 L132.2,216.9 L132.6,218.6 L133,218 L133.4,217.9 L133.8,217.1 L134.2,215.6 L134.6,215.8 L135,214.9 L135.4,214.5 L135.8,213.8 L136.2,213.9 L136.6,214.8 L137,213.4 L137.4,213.6 L137.8,212.3 L138.2,213.2 L138.6,212.1 L139,211 L139.4,211.7 L139.8,211.9 L140.2,212 L140.6,211 L141,210.5 L141.4,210.7 L141.8,210.2 L142.2,210.2 L142.6,210 L143,210 L143.4,209.5 L143.8,207.5 L144.2,208.2 L144.6,208.6 L145,208.8 L145.4,209.6 L145.8,209.1 L146.2,210 L146.6,208.4 L147,207.8 L147.4,208.4 L147.8,208 L148.2,209.6 L148.6,210.4 L149,210.7 L149.4,210.2 L149.8,209.7 L150.2,209.6 L150.6,208.8 L151,208.3 L151.4,208.9 L151.8,209.1 L152.2,209.5 L152.6,211.4 L153,211.5 L153.4,210.2 L153.8,210.5 L154.2,210.2 L154.6,211.6 L155,210.7 L155.4,211.2 L155.8,211.3 L156.2,212 L156.6,211.9 L157,212.4 L157.4,213.7 L157.8,211.7 L158.2,213.3 L158.6,213.3 L159,213.5 L159.4,214.4 L159.8,211.9 L160.2,214.3 L160.6,214.6 L161,214.3 L161.4,216.4 L161.8,216.9 L162.2,216 L162.6,215.8 L163,215 L163.4,215.6 L163.8,215.3 L164.2,215.3 L164.6,216.1 L165,217.2 L165.4,217.3 L165.8,216.2 L166.2,215.8 L166.6,216.6 L167,215.7 L167.4,216.9 L167.8,217.7 L168.2,217.4 L168.6,216.7 L169,217.3 L169.4,217.5 L169.8,217.4 L170.2,218.5 L170.6,219.4 L171,218.4 L171.4,218.5 L171.8,219.5 L172.2,216.7 L172.6,217 L173,216.8 L173.4,217.2 L173.8,217.6 L174.2,218.5 L174.6,218.1 L175,217.3 L175.4,216.5 L175.8,217.7 L176.2,218.3 L176.6,217.7 L177,218.7 L177.4,217.5 L177.8,218.1 L178.2,217.6 L178.6,217 L179,217.2 L179.4,216.1 L179.8,216.3 L180.2,217.2 L180.6,217.4 L181,216.7 L181.4,215.8 L181.8,214.5 L182.2,214.7 L182.6,214.9 L183,215.3 L183.4,215.4 L183.8,216.2 L184.2,215.4 L184.6,216.8 L185,213.7 L185.4,212.3 L185.8,212.4 L186.2,213" fill="none" stroke="#3434c8" stroke-width="1.3" stroke-linejoin="round"/>
<path d="M90.2,215.7 L90.9,214.4 L91.6,213.2 L92.3,212 L93,210.9 L93.7,209.8 L94.4,208.8 L95.1,207.9 L95.8,207 L96.5,206.3 L97.2,205.5 L97.9,204.9 L98.6,204.4 L99.3,203.9 L100,203.5 L100.7,203.2 L101.4,203 L102.1,202.8 L102.8,202.8 L103.5,202.9 L104.2,203.2 L104.9,203.6 L105.6,204.1 L106.3,204.8 L107,205.6 L107.7,206.4 L108.4,207.4 L109.1,208.4 L109.8,209.5 L110.5,210.7 L111.2,211.8 L111.9,213 L112.6,214.2 L113.3,215.4 L114,216.6 L114.7,217.8 L115.4,218.9 L116.1,220 L116.8,221 L117.5,222 L118.2,222.8 L118.9,223.6 L119.6,224.3 L120.3,224.8 L121,225.2 L121.7,225.4 L122.4,225.5 L123.1,225.5 L123.8,225.3 L124.5,225.1 L125.2,224.8 L125.9,224.4 L126.6,224 L127.3,223.5 L128,222.9 L128.7,222.3 L129.4,221.7 L130.1,221 L130.8,220.3 L131.5,219.6 L132.2,218.8 L132.9,218 L133.6,217.3 L134.3,216.5 L135,215.7 L135.7,215 L136.4,214.2 L137.1,213.5 L137.8,212.8 L138.5,212.1 L139.2,211.5 L139.9,210.9 L140.6,210.4 L141.3,210 L142,209.6 L142.7,209.2 L143.4,209 L144.1,208.8 L144.8,208.7 L145.5,208.7 L146.2,208.7 L146.9,208.8 L147.6,208.9 L148.3,209.1 L149,209.3 L149.7,209.5 L150.4,209.7 L151.1,210 L151.8,210.2 L152.5,210.5 L153.2,210.8 L153.9,211.2 L154.6,211.5 L155.3,211.9 L156,212.2 L156.7,212.6 L157.4,213 L158.1,213.3 L158.8,213.7 L159.5,214.1 L160.2,214.4 L160.9,214.8 L161.6,215.1 L162.3,215.5 L163,215.8 L163.7,216.1 L164.4,216.4 L165.1,216.7 L165.8,216.9 L166.5,217.1 L167.2,217.3 L167.9,217.5 L168.6,217.6 L169.3,217.7 L170,217.8 L170.7,217.8 L171.4,217.8 L172.1,217.8 L172.8,217.7 L173.5,217.7 L174.2,217.6 L174.9,217.5 L175.6,217.4 L176.3,217.3 L177,217.2 L177.7,217 L178.4,216.9 L179.1,216.7 L179.8,216.5 L180.5,216.3 L181.2,216.1 L181.9,215.9 L182.6,215.6 L183.3,215.4 L184,215.1 L184.7,214.8 L185.4,214.5 L186.1,214.2" fill="none" stroke="#e03046" stroke-width="0.85"/>
<path d="M90.2,238.6 L90.6,237.7 L91,237.6 L91.4,237.3 L91.8,237.1 L92.2,235.8 L92.6,235.1 L93,233.7 L93.4,232.4 L93.8,232.9 L94.2,231.8 L94.6,231.1 L95,230.6 L95.4,229.8 L95.8,230.3 L96.2,227.3 L96.6,227.6 L97,227.1 L97.4,227.6 L97.8,227.3 L98.2,227 L98.6,226.9 L99,226.6 L99.4,226.3 L99.8,226.9 L100.2,227.1 L100.6,226.8 L101,226.7 L101.4,226.2 L101.8,225.5 L102.2,224.8 L102.6,225.2 L103,225 L103.4,225.5 L103.8,225.6 L104.2,225.9 L104.6,225.9 L105,226.4 L105.4,226.4 L105.8,226.5 L106.2,227.5 L106.6,228.8 L107,229.6 L107.4,230.5 L107.8,231.2 L108.2,231.5 L108.6,231.3 L109,231.8 L109.4,232.5 L109.8,230.9 L110.2,233.6 L110.6,233.9 L111,234.8 L111.4,235.4 L111.8,235.4 L112.2,237 L112.6,237.6 L113,236.5 L113.4,238.1 L113.8,239.7 L114.2,238.8 L114.6,241.3 L115,242 L115.4,242.5 L115.8,243 L116.2,243.3 L116.6,243.4 L117,244.5 L117.4,244.1 L117.8,244.2 L118.2,243.7 L118.6,244.4 L119,244 L119.4,243.8 L119.8,245.7 L120.2,246.3 L120.6,246.4 L121,246.7 L121.4,248.7 L121.8,247.8 L122.2,247.8 L122.6,248.1 L123,248.6 L123.4,249.2 L123.8,247.7 L124.2,247.1 L124.6,245.7 L125,245.9 L125.4,245.9 L125.8,245.8 L126.2,245.2 L126.6,246.2 L127,244.6 L127.4,244.7 L127.8,244.6 L128.2,244.4 L128.6,244.1 L129,243.5 L129.4,243.6 L129.8,243.7 L130.2,243.6 L130.6,243.2 L131,242.7 L131.4,241 L131.8,240.6 L132.2,240.8 L132.6,240 L133,240.1 L133.4,239.4 L133.8,239 L134.2,238.4 L134.6,237.4 L135,237.6 L135.4,238.4 L135.8,240.4 L136.2,238.3 L136.6,238.3 L137,237.8 L137.4,236.1 L137.8,235 L138.2,234.9 L138.6,235.7 L139,235.6 L139.4,234 L139.8,233 L140.2,231.3 L140.6,231.7 L141,231.6 L141.4,231.5 L141.8,231.4 L142.2,231.5 L142.6,232.2 L143,232.7 L143.4,232.4 L143.8,232.3 L144.2,232 L144.6,232 L145,232 L145.4,231.6 L145.8,233.2 L146.2,229.9 L146.6,231.7 L147,230.6 L147.4,229.9 L147.8,230 L148.2,230.7 L148.6,231.7 L149,232.5 L149.4,231.7 L149.8,232.1 L150.2,232.5 L150.6,233.4 L151,233.8 L151.4,235.6 L151.8,233.5 L152.2,233.8 L152.6,234.8 L153,234.2 L153.4,234.3 L153.8,234.7 L154.2,233.5 L154.6,235 L155,235.1 L155.4,235.6 L155.8,234.5 L156.2,234 L156.6,235.2 L157,235.1 L157.4,236 L157.8,237.3 L158.2,236 L158.6,237.7 L159,235.9 L159.4,237.5 L159.8,237.7 L160.2,237.3 L160.6,237.6 L161,238.9 L161.4,240.1 L161.8,239.8 L162.2,238.2 L162.6,238.9 L163,239.4 L163.4,238.5 L163.8,238.9 L164.2,242.3 L164.6,243.8 L165,241.4 L165.4,241.2 L165.8,241.2 L166.2,241.1 L166.6,241.4 L167,241.6 L167.4,242.2 L167.8,242.4 L168.2,241.7 L168.6,240.8 L169,240.6 L169.4,239.9 L169.8,240.3 L170.2,241 L170.6,241.6 L171,241.5 L171.4,241.3 L171.8,241.4 L172.2,242.6 L172.6,241.9 L173,240.5 L173.4,241.7 L173.8,242.3 L174.2,241.7 L174.6,241.2 L175,240.6 L175.4,238.3 L175.8,240.5 L176.2,239.4 L176.6,239.5 L177,239.5 L177.4,239.9 L177.8,240.5 L178.2,239.8 L178.6,241.7 L179,239.3 L179.4,239.4 L179.8,239.4 L180.2,240.9 L180.6,239.8 L181,238.1 L181.4,239.9 L181.8,239.1 L182.2,237.6 L182.6,238.3 L183,237.2 L183.4,237.7 L183.8,238 L184.2,238 L184.6,238.2 L185,236.8 L185.4,237.5 L185.8,236.9 L186.2,237.1" fill="none" stroke="#3434c8" stroke-width="1.3" stroke-linejoin="round"/>
<path d="M90.2,239.3 L90.9,237.9 L91.6,236.6 L92.3,235.3 L93,234 L93.7,232.9 L94.4,231.7 L95.1,230.7 L95.8,229.7 L96.5,228.8 L97.2,228 L97.9,227.3 L98.6,226.7 L99.3,226.3 L100,225.9 L100.7,225.6 L101.4,225.5 L102.1,225.5 L102.8,225.7 L103.5,226 L104.2,226.4 L104.9,226.9 L105.6,227.5 L106.3,228.2 L107,229 L107.7,229.9 L108.4,230.8 L109.1,231.8 L109.8,232.9 L110.5,233.9 L111.2,235 L111.9,236.1 L112.6,237.2 L113.3,238.3 L114,239.4 L114.7,240.4 L115.4,241.4 L116.1,242.4 L116.8,243.3 L117.5,244.1 L118.2,244.9 L118.9,245.5 L119.6,246.1 L120.3,246.6 L121,246.9 L121.7,247.1 L122.4,247.2 L123.1,247.2 L123.8,247 L124.5,246.8 L125.2,246.5 L125.9,246.2 L126.6,245.8 L127.3,245.3 L128,244.8 L128.7,244.2 L129.4,243.6 L130.1,243 L130.8,242.3 L131.5,241.6 L132.2,240.9 L132.9,240.2 L133.6,239.5 L134.3,238.7 L135,238 L135.7,237.3 L136.4,236.6 L137.1,235.9 L137.8,235.3 L138.5,234.6 L139.2,234 L139.9,233.5 L140.6,233 L141.3,232.6 L142,232.2 L142.7,231.9 L143.4,231.7 L144.1,231.5 L144.8,231.4 L145.5,231.4 L146.2,231.5 L146.9,231.6 L147.6,231.7 L148.3,231.9 L149,232.1 L149.7,232.4 L150.4,232.7 L151.1,233 L151.8,233.3 L152.5,233.7 L153.2,234.1 L153.9,234.5 L154.6,234.9 L155.3,235.3 L156,235.8 L156.7,236.2 L157.4,236.6 L158.1,237.1 L158.8,237.5 L159.5,237.9 L160.2,238.3 L160.9,238.7 L161.6,239.1 L162.3,239.5 L163,239.8 L163.7,240.1 L164.4,240.4 L165.1,240.7 L165.8,240.9 L166.5,241 L167.2,241.2 L167.9,241.3 L168.6,241.3 L169.3,241.3 L170,241.3 L170.7,241.2 L171.4,241.2 L172.1,241.1 L172.8,241.1 L173.5,241 L174.2,240.9 L174.9,240.7 L175.6,240.6 L176.3,240.5 L177,240.3 L177.7,240.1 L178.4,239.9 L179.1,239.7 L179.8,239.5 L180.5,239.2 L181.2,238.9 L181.9,238.7 L182.6,238.4 L183.3,238.1 L184,237.7 L184.7,237.4 L185.4,237 L186.1,236.6" fill="none" stroke="#e03046" stroke-width="0.85"/>
<path d="M89.4,260.2 L89.8,260.2 L90.2,259.6 L90.6,259.6 L91,259.7 L91.4,258.4 L91.8,258.2 L92.2,257.3 L92.6,257.4 L93,257.8 L93.4,255.8 L93.8,255.3 L94.2,254.7 L94.6,254.1 L95,254.1 L95.4,253 L95.8,253.4 L96.2,252.9 L96.6,253.2 L97,252.4 L97.4,251.9 L97.8,251.5 L98.2,251.2 L98.6,251 L99,251.3 L99.4,250.4 L99.8,252.5 L100.2,252.6 L100.6,253 L101,253.3 L101.4,253.7 L101.8,253.7 L102.2,253.4 L102.6,253.3 L103,253.9 L103.4,252.9 L103.8,253.6 L104.2,253.7 L104.6,254 L105,254.9 L105.4,254.9 L105.8,255.3 L106.2,255.9 L106.6,255.5 L107,256.4 L107.4,257.2 L107.8,257.4 L108.2,258.5 L108.6,259.3 L109,261.2 L109.4,260.3 L109.8,261.1 L110.2,262 L110.6,261.7 L111,262.1 L111.4,261.9 L111.8,264.6 L112.2,261.5 L112.6,263.6 L113,264.8 L113.4,265.5 L113.8,265.5 L114.2,265.7 L114.6,267.2 L115,267.6 L115.4,266.9 L115.8,267.8 L116.2,268.1 L116.6,267.6 L117,269 L117.4,269.4 L117.8,268.9 L118.2,269.4 L118.6,269.4 L119,269.3 L119.4,269.2 L119.8,268.6 L120.2,269.3 L120.6,269.9 L121,269.6 L121.4,272 L121.8,270 L122.2,268.6 L122.6,269.6 L123,267.7 L123.4,269.7 L123.8,269.5 L124.2,268.6 L124.6,268.1 L125,268.3 L125.4,267.8 L125.8,266.8 L126.2,267 L126.6,268.2 L127,266.5 L127.4,265.2 L127.8,265 L128.2,265.7 L128.6,265.7 L129,265.4 L129.4,265.1 L129.8,264 L130.2,263 L130.6,261.8 L131,260.8 L131.4,261.3 L131.8,260.1 L132.2,261.2 L132.6,261.1 L133,258.7 L133.4,258.5 L133.8,258.4 L134.2,258.5 L134.6,258.3 L135,257.1 L135.4,255.4 L135.8,257.2 L136.2,257.7 L136.6,256.3 L137,256.8 L137.4,255.9 L137.8,256.7 L138.2,255.9 L138.6,256.1 L139,256 L139.4,255.7 L139.8,254 L140.2,253.3 L140.6,253.4 L141,254.2 L141.4,254.3 L141.8,253.8 L142.2,253.6 L142.6,253.7 L143,252.4 L143.4,254.1 L143.8,254.6 L144.2,255.3 L144.6,256.1 L145,256.6 L145.4,256.6 L145.8,255.6 L146.2,256.9 L146.6,256.6 L147,257.1 L147.4,255.7 L147.8,255.4 L148.2,254.7 L148.6,256.4 L149,255.6 L149.4,256.1 L149.8,256.7 L150.2,256.6 L150.6,257.2 L151,258.3 L151.4,258.6 L151.8,259.3 L152.2,259.2 L152.6,260 L153,261.2 L153.4,261.5 L153.8,262 L154.2,261.2 L154.6,260.6 L155,260.7 L155.4,261 L155.8,260 L156.2,260.2 L156.6,260.8 L157,260.4 L157.4,261 L157.8,260.2 L158.2,260.3 L158.6,262.1 L159,264.8 L159.4,262.2 L159.8,263.2 L160.2,263.2 L160.6,263.8 L161,264.2 L161.4,264.1 L161.8,264.3 L162.2,264.7 L162.6,263.3 L163,262.3 L163.4,263 L163.8,263.4 L164.2,260.2 L164.6,263.8 L165,262.9 L165.4,265.7 L165.8,263.3 L166.2,263.8 L166.6,264.1 L167,265.7 L167.4,264.3 L167.8,265.4 L168.2,264.4 L168.6,264 L169,263.7 L169.4,264 L169.8,263.8 L170.2,264 L170.6,264.4 L171,263.2 L171.4,263.4 L171.8,263.2 L172.2,262.5 L172.6,262.1 L173,262.1 L173.4,262.4 L173.8,263.8 L174.2,262.9 L174.6,261.5 L175,261.4 L175.4,262.2 L175.8,262.1 L176.2,260.9 L176.6,261.6 L177,261.9 L177.4,261.8 L177.8,263 L178.2,262.7 L178.6,261.9 L179,261.1 L179.4,260.9 L179.8,260.6 L180.2,260.1 L180.6,260.3 L181,260.5 L181.4,260.3 L181.8,260.1 L182.2,259.9 L182.6,258.3 L183,258 L183.4,259.1 L183.8,258.7 L184.2,259.8 L184.6,260.2 L185,260 L185.4,259 L185.8,256.8 L186.2,257.9" fill="none" stroke="#3434c8" stroke-width="1.3" stroke-linejoin="round"/>
<path d="M89.4,260.7 L90.1,259.7 L90.8,258.8 L91.5,257.9 L92.2,257.1 L92.9,256.3 L93.6,255.6 L94.3,254.9 L95,254.3 L95.7,253.7 L96.4,253.3 L97.1,252.9 L97.8,252.6 L98.5,252.3 L99.2,252.2 L99.9,252.2 L100.6,252.3 L101.3,252.5 L102,252.8 L102.7,253.2 L103.4,253.7 L104.1,254.3 L104.8,254.9 L105.5,255.6 L106.2,256.4 L106.9,257.2 L107.6,258 L108.3,258.9 L109,259.8 L109.7,260.6 L110.4,261.6 L111.1,262.4 L111.8,263.3 L112.5,264.2 L113.2,265 L113.9,265.8 L114.6,266.6 L115.3,267.3 L116,267.9 L116.7,268.5 L117.4,269 L118.1,269.4 L118.8,269.7 L119.5,269.9 L120.2,270 L120.9,270 L121.6,269.9 L122.3,269.6 L123,269.3 L123.7,269 L124.4,268.5 L125.1,268 L125.8,267.5 L126.5,266.8 L127.2,266.2 L127.9,265.5 L128.6,264.8 L129.3,264 L130,263.3 L130.7,262.5 L131.4,261.7 L132.1,261 L132.8,260.2 L133.5,259.5 L134.2,258.8 L134.9,258.1 L135.6,257.5 L136.3,256.9 L137,256.4 L137.7,255.9 L138.4,255.6 L139.1,255.2 L139.8,255 L140.5,254.9 L141.2,254.8 L141.9,254.8 L142.6,254.9 L143.3,255 L144,255.1 L144.7,255.3 L145.4,255.5 L146.1,255.8 L146.8,256.1 L147.5,256.4 L148.2,256.7 L148.9,257 L149.6,257.4 L150.3,257.7 L151,258.1 L151.7,258.5 L152.4,258.9 L153.1,259.3 L153.8,259.7 L154.5,260.1 L155.2,260.5 L155.9,260.9 L156.6,261.2 L157.3,261.6 L158,261.9 L158.7,262.2 L159.4,262.5 L160.1,262.8 L160.8,263 L161.5,263.2 L162.2,263.4 L162.9,263.5 L163.6,263.6 L164.3,263.7 L165,263.7 L165.7,263.7 L166.4,263.7 L167.1,263.7 L167.8,263.6 L168.5,263.6 L169.2,263.5 L169.9,263.5 L170.6,263.4 L171.3,263.3 L172,263.2 L172.7,263.1 L173.4,263 L174.1,262.9 L174.8,262.7 L175.5,262.6 L176.2,262.4 L176.9,262.3 L177.6,262.1 L178.3,261.9 L179,261.7 L179.7,261.5 L180.4,261.2 L181.1,261 L181.8,260.7 L182.5,260.4 L183.2,260.1 L183.9,259.8 L184.6,259.5 L185.3,259.2 L186,258.8" fill="none" stroke="#e03046" stroke-width="0.85"/>
<path d="M89.4,285.2 L89.8,285.2 L90.2,285.1 L90.6,285.8 L91,283 L91.4,282.3 L91.8,282.2 L92.2,281.8 L92.6,281.5 L93,280.1 L93.4,279.6 L93.8,279.3 L94.2,278.9 L94.6,279.1 L95,278.6 L95.4,278.5 L95.8,279.3 L96.2,278.6 L96.6,278 L97,278.3 L97.4,278.2 L97.8,276.7 L98.2,277 L98.6,276.9 L99,274.4 L99.4,275.1 L99.8,276.4 L100.2,277.3 L100.6,277.1 L101,277 L101.4,276.7 L101.8,277.3 L102.2,277.9 L102.6,278.4 L103,279.2 L103.4,278.8 L103.8,279.1 L104.2,279.5 L104.6,279.2 L105,277.7 L105.4,280.5 L105.8,281.2 L106.2,281.1 L106.6,281.4 L107,282.1 L107.4,283.1 L107.8,283.5 L108.2,283 L108.6,283.4 L109,284 L109.4,284.1 L109.8,283.9 L110.2,283.8 L110.6,284.3 L111,284.8 L111.4,284.9 L111.8,284.3 L112.2,284.6 L112.6,284.7 L113,285.9 L113.4,286.1 L113.8,287.8 L114.2,286.7 L114.6,287.5 L115,288.3 L115.4,288 L115.8,287.8 L116.2,287.9 L116.6,288.3 L117,289.3 L117.4,289 L117.8,289 L118.2,289.1 L118.6,289.4 L119,288.9 L119.4,289.4 L119.8,288.7 L120.2,289.2 L120.6,289.3 L121,289.5 L121.4,289.6 L121.8,289.2 L122.2,288.9 L122.6,289.2 L123,288.6 L123.4,288.6 L123.8,288.6 L124.2,288.5 L124.6,287.8 L125,287.2 L125.4,287.6 L125.8,287.8 L126.2,287.3 L126.6,287 L127,286.9 L127.4,286.6 L127.8,286.3 L128.2,285 L128.6,284.9 L129,284.6 L129.4,284.7 L129.8,284.7 L130.2,283.8 L130.6,282.5 L131,283.6 L131.4,283.6 L131.8,283.5 L132.2,284.8 L132.6,283.1 L133,282.8 L133.4,282.4 L133.8,282.4 L134.2,282.8 L134.6,282.9 L135,282.1 L135.4,280.8 L135.8,280.4 L136.2,280.7 L136.6,281.2 L137,280.5 L137.4,280.6 L137.8,280.7 L138.2,279.7 L138.6,281.3 L139,279.5 L139.4,280.1 L139.8,280.9 L140.2,281 L140.6,281.4 L141,279.8 L141.4,279.2 L141.8,279.1 L142.2,280 L142.6,280.9 L143,279.8 L143.4,280.4 L143.8,280.1 L144.2,280.6 L144.6,280 L145,280 L145.4,280.1 L145.8,280.5 L146.2,280.6 L146.6,280.8 L147,280.5 L147.4,280.6 L147.8,281.6 L148.2,281.6 L148.6,281.1 L149,281.2 L149.4,281.2 L149.8,282.2 L150.2,280.4 L150.6,281.5 L151,281.8 L151.4,282.3 L151.8,282.1 L152.2,283.4 L152.6,283.4 L153,284.1 L153.4,283.3 L153.8,284 L154.2,282.5 L154.6,282.6 L155,282.7 L155.4,282.8 L155.8,282.8 L156.2,283.4 L156.6,283.7 L157,286.8 L157.4,285.1 L157.8,285.4 L158.2,287 L158.6,286.9 L159,285.3 L159.4,285.9 L159.8,285.5 L160.2,284.7 L160.6,284.2 L161,284.5 L161.4,284.2 L161.8,285.1 L162.2,285 L162.6,284.6 L163,284.6 L163.4,285.6 L163.8,285.5 L164.2,284.8 L164.6,284.7 L165,284.3 L165.4,285.8 L165.8,286.4 L166.2,285.7 L166.6,286.2 L167,288 L167.4,283.8 L167.8,284 L168.2,284 L168.6,283.9 L169,287.3 L169.4,285.8 L169.8,285.7 L170.2,284.9 L170.6,284.4 L171,284 L171.4,284.8 L171.8,285.2 L172.2,284.6 L172.6,285.1 L173,287.1 L173.4,283.5 L173.8,283.4 L174.2,282.6 L174.6,285.3 L175,284.6 L175.4,284.8 L175.8,284.8 L176.2,283.8 L176.6,284.7 L177,284.1 L177.4,284.6 L177.8,284.3 L178.2,283.8 L178.6,283.5 L179,284 L179.4,283.7 L179.8,284 L180.2,283.4 L180.6,282.8 L181,283.3 L181.4,282 L181.8,285.7 L182.2,283.6 L182.6,283.5 L183,281 L183.4,283.6 L183.8,285 L184.2,284.2 L184.6,283 L185,281.7 L185.4,281.8 L185.8,281.3 L186.2,281.4" fill="none" stroke="#3434c8" stroke-width="1.3" stroke-linejoin="round"/>
<path d="M89.4,285 L90.1,284.1 L90.8,283.2 L91.5,282.3 L92.2,281.5 L92.9,280.7 L93.6,280 L94.3,279.3 L95,278.7 L95.7,278.2 L96.4,277.8 L97.1,277.4 L97.8,277.2 L98.5,277.1 L99.2,277.1 L99.9,277.2 L100.6,277.4 L101.3,277.6 L102,277.9 L102.7,278.3 L103.4,278.7 L104.1,279.2 L104.8,279.7 L105.5,280.2 L106.2,280.7 L106.9,281.3 L107.6,281.9 L108.3,282.5 L109,283.2 L109.7,283.8 L110.4,284.4 L111.1,285 L111.8,285.6 L112.5,286.1 L113.2,286.7 L113.9,287.2 L114.6,287.6 L115.3,288.1 L116,288.4 L116.7,288.7 L117.4,289 L118.1,289.2 L118.8,289.3 L119.5,289.3 L120.2,289.3 L120.9,289.2 L121.6,289 L122.3,288.9 L123,288.6 L123.7,288.4 L124.4,288.1 L125.1,287.7 L125.8,287.4 L126.5,287 L127.2,286.6 L127.9,286.2 L128.6,285.7 L129.3,285.3 L130,284.8 L130.7,284.4 L131.4,283.9 L132.1,283.5 L132.8,283.1 L133.5,282.7 L134.2,282.3 L134.9,281.9 L135.6,281.5 L136.3,281.2 L137,280.9 L137.7,280.6 L138.4,280.4 L139.1,280.2 L139.8,280.1 L140.5,280 L141.2,280 L141.9,280 L142.6,280.1 L143.3,280.1 L144,280.2 L144.7,280.3 L145.4,280.5 L146.1,280.6 L146.8,280.8 L147.5,281 L148.2,281.2 L148.9,281.4 L149.6,281.7 L150.3,281.9 L151,282.1 L151.7,282.4 L152.4,282.6 L153.1,282.9 L153.8,283.1 L154.5,283.3 L155.2,283.6 L155.9,283.8 L156.6,284 L157.3,284.2 L158,284.4 L158.7,284.5 L159.4,284.7 L160.1,284.8 L160.8,284.9 L161.5,284.9 L162.2,285 L162.9,285 L163.6,285 L164.3,285 L165,285 L165.7,285 L166.4,285 L167.1,284.9 L167.8,284.9 L168.5,284.9 L169.2,284.9 L169.9,284.8 L170.6,284.8 L171.3,284.7 L172,284.7 L172.7,284.6 L173.4,284.5 L174.1,284.5 L174.8,284.4 L175.5,284.3 L176.2,284.2 L176.9,284.1 L177.6,284 L178.3,283.9 L179,283.8 L179.7,283.6 L180.4,283.5 L181.1,283.3 L181.8,283.2 L182.5,283 L183.2,282.9 L183.9,282.7 L184.6,282.5 L185.3,282.3 L186,282.1" fill="none" stroke="#e03046" stroke-width="0.85"/>
<path d="M88.9,305.2 L89.3,305.9 L89.7,305.6 L90.1,305.9 L90.5,304.6 L90.9,304 L91.3,303.9 L91.7,304.5 L92.1,303.3 L92.5,302.9 L92.9,302 L93.3,301.7 L93.7,301.5 L94.1,301.3 L94.5,300.6 L94.9,300.8 L95.3,300.5 L95.7,300.7 L96.1,300.5 L96.5,301 L96.9,300.7 L97.3,301 L97.7,300.9 L98.1,301.1 L98.5,301 L98.9,301.1 L99.3,300.6 L99.7,300.5 L100.1,301 L100.5,300.8 L100.9,301.6 L101.3,300.3 L101.7,301.2 L102.1,300.7 L102.5,301.1 L102.9,301.8 L103.3,301.9 L103.7,302.5 L104.1,303.3 L104.5,303.6 L104.9,303.6 L105.3,303.7 L105.7,303.7 L106.1,304.7 L106.5,305 L106.9,304.9 L107.3,306.1 L107.7,306.5 L108.1,306.2 L108.5,306.4 L108.9,304.9 L109.3,307.8 L109.7,308.3 L110.1,308.6 L110.5,308.8 L110.9,309.5 L111.3,309 L111.7,309.4 L112.1,310.2 L112.5,313.4 L112.9,311.6 L113.3,312.5 L113.7,312.3 L114.1,312.5 L114.5,312.6 L114.9,313 L115.3,312.4 L115.7,311.8 L116.1,311.7 L116.5,312.2 L116.9,312.4 L117.3,311.7 L117.7,311.5 L118.1,311.3 L118.5,310.5 L118.9,311.5 L119.3,311.7 L119.7,311.6 L120.1,312.1 L120.5,312.2 L120.9,311.9 L121.3,311.2 L121.7,309.1 L122.1,310.8 L122.5,309.8 L122.9,308.7 L123.3,308.2 L123.7,308.4 L124.1,308.2 L124.5,308.5 L124.9,307.7 L125.3,308 L125.7,308.5 L126.1,308 L126.5,308 L126.9,308.6 L127.3,305.8 L127.7,307.7 L128.1,306.7 L128.5,306.1 L128.9,305.7 L129.3,306.1 L129.7,305.2 L130.1,304.4 L130.5,303.7 L130.9,304.5 L131.3,303.9 L131.7,304.2 L132.1,303.2 L132.5,302.7 L132.9,304.5 L133.3,303.2 L133.7,302.3 L134.1,302.6 L134.5,303.3 L134.9,302.8 L135.3,303 L135.7,301.7 L136.1,301.9 L136.5,302.1 L136.9,302.3 L137.3,303 L137.7,303 L138.1,301 L138.5,302.9 L138.9,302.4 L139.3,298.4 L139.7,300.8 L140.1,302.4 L140.5,302.4 L140.9,302.6 L141.3,302.7 L141.7,303 L142.1,304.1 L142.5,304.5 L142.9,304 L143.3,304 L143.7,305.1 L144.1,304.7 L144.5,304.7 L144.9,304.3 L145.3,304 L145.7,305.2 L146.1,304.9 L146.5,304.9 L146.9,304.7 L147.3,305.4 L147.7,305.6 L148.1,305.4 L148.5,305.7 L148.9,305.9 L149.3,307.9 L149.7,307.5 L150.1,308 L150.5,309.4 L150.9,310.1 L151.3,310.5 L151.7,309.6 L152.1,306.4 L152.5,305.9 L152.9,308.1 L153.3,308.4 L153.7,308.8 L154.1,308.5 L154.5,308.2 L154.9,309.4 L155.3,308.3 L155.7,309.5 L156.1,309.8 L156.5,309.3 L156.9,309.6 L157.3,309.1 L157.7,309.5 L158.1,309.4 L158.5,308.1 L158.9,308.6 L159.3,307.9 L159.7,308.7 L160.1,310.5 L160.5,308.8 L160.9,308.5 L161.3,309.5 L161.7,309.1 L162.1,308.4 L162.5,307.7 L162.9,308.2 L163.3,307.6 L163.7,307.9 L164.1,308 L164.5,308.2 L164.9,309.3 L165.3,309.5 L165.7,308.8 L166.1,308.6 L166.5,308 L166.9,308.4 L167.3,309.5 L167.7,309.7 L168.1,309.2 L168.5,309.6 L168.9,308.4 L169.3,306.6 L169.7,308.3 L170.1,308.6 L170.5,308.3 L170.9,307.7 L171.3,307.7 L171.7,308.4 L172.1,311.3 L172.5,309.7 L172.9,309.4 L173.3,309.2 L173.7,310.6 L174.1,308.4 L174.5,308.2 L174.9,309.2 L175.3,307.6 L175.7,308.1 L176.1,306.3 L176.5,307.1 L176.9,306.8 L177.3,310.2 L177.7,307.3 L178.1,310.5 L178.5,306.9 L178.9,306.9 L179.3,307.9 L179.7,308.1 L180.1,308.6 L180.5,308 L180.9,308 L181.3,308.5 L181.7,307.5 L182.1,306.7 L182.5,305.9 L182.9,306.3 L183.3,305.7 L183.7,305.6 L184.1,305.5 L184.5,304.8 L184.9,306 L185.3,305.4 L185.7,305.7 L186.1,304.7" fill="none" stroke="#3434c8" stroke-width="1.3" stroke-linejoin="round"/>
<path d="M88.9,305.8 L89.6,305.1 L90.3,304.5 L91,303.9 L91.7,303.3 L92.4,302.8 L93.1,302.3 L93.8,301.8 L94.5,301.4 L95.2,301.1 L95.9,300.8 L96.6,300.6 L97.3,300.4 L98,300.3 L98.7,300.3 L99.4,300.4 L100.1,300.5 L100.8,300.8 L101.5,301.1 L102.2,301.5 L102.9,302 L103.6,302.5 L104.3,303.1 L105,303.7 L105.7,304.3 L106.4,305 L107.1,305.7 L107.8,306.4 L108.5,307.1 L109.2,307.8 L109.9,308.4 L110.6,309.1 L111.3,309.7 L112,310.2 L112.7,310.7 L113.4,311.2 L114.1,311.5 L114.8,311.8 L115.5,312 L116.2,312.1 L116.9,312.1 L117.6,312 L118.3,311.9 L119,311.7 L119.7,311.5 L120.4,311.2 L121.1,310.9 L121.8,310.5 L122.5,310.1 L123.2,309.7 L123.9,309.2 L124.6,308.7 L125.3,308.3 L126,307.8 L126.7,307.3 L127.4,306.8 L128.1,306.3 L128.8,305.8 L129.5,305.3 L130.2,304.8 L130.9,304.4 L131.6,304 L132.3,303.6 L133,303.3 L133.7,303 L134.4,302.7 L135.1,302.5 L135.8,302.3 L136.5,302.2 L137.2,302.2 L137.9,302.2 L138.6,302.3 L139.3,302.4 L140,302.6 L140.7,302.8 L141.4,303 L142.1,303.3 L142.8,303.6 L143.5,303.9 L144.2,304.2 L144.9,304.6 L145.6,304.9 L146.3,305.3 L147,305.7 L147.7,306 L148.4,306.4 L149.1,306.7 L149.8,307 L150.5,307.4 L151.2,307.6 L151.9,307.9 L152.6,308.1 L153.3,308.3 L154,308.5 L154.7,308.6 L155.4,308.7 L156.1,308.7 L156.8,308.7 L157.5,308.7 L158.2,308.7 L158.9,308.7 L159.6,308.7 L160.3,308.7 L161,308.7 L161.7,308.7 L162.4,308.7 L163.1,308.7 L163.8,308.6 L164.5,308.6 L165.2,308.6 L165.9,308.6 L166.6,308.6 L167.3,308.5 L168,308.5 L168.7,308.5 L169.4,308.4 L170.1,308.4 L170.8,308.3 L171.5,308.3 L172.2,308.2 L172.9,308.1 L173.6,308 L174.3,308 L175,307.9 L175.7,307.8 L176.4,307.7 L177.1,307.6 L177.8,307.5 L178.5,307.3 L179.2,307.2 L179.9,307.1 L180.6,306.9 L181.3,306.8 L182,306.6 L182.7,306.4 L183.4,306.2 L184.1,306 L184.8,305.8 L185.5,305.6 L186.2,305.4" fill="none" stroke="#e03046" stroke-width="0.85"/>
<path d="M87.5,326.7 L87.9,324.9 L88.3,323.4 L88.7,325.1 L89.1,324.7 L89.5,325.6 L89.9,325 L90.3,325.1 L90.7,324.1 L91.1,324.9 L91.5,325.4 L91.9,324.1 L92.3,323.4 L92.7,322.7 L93.1,322.9 L93.5,322.6 L93.9,322.7 L94.3,322.9 L94.7,323.2 L95.1,323.3 L95.5,327 L95.9,327 L96.3,325.5 L96.7,325.9 L97.1,325.8 L97.5,325.7 L97.9,325.2 L98.3,324.9 L98.7,324 L99.1,325.3 L99.5,325.3 L99.9,324.2 L100.3,327.3 L100.7,327.9 L101.1,328.5 L101.5,329 L101.9,329.8 L102.3,330.3 L102.7,330.2 L103.1,330.3 L103.5,330 L103.9,331.9 L104.3,331.4 L104.7,331.9 L105.1,332.9 L105.5,331.8 L105.9,332.9 L106.3,333.8 L106.7,333.8 L107.1,334.2 L107.5,335.1 L107.9,335.6 L108.3,336 L108.7,336 L109.1,337.5 L109.5,337.7 L109.9,336.3 L110.3,336.1 L110.7,336.9 L111.1,336.5 L111.5,336.9 L111.9,336.2 L112.3,335.5 L112.7,335.3 L113.1,336.6 L113.5,336.7 L113.9,336.4 L114.3,337.1 L114.7,337.4 L115.1,338 L115.5,335.9 L115.9,334.1 L116.3,332.5 L116.7,332.7 L117.1,332.4 L117.5,333 L117.9,331.4 L118.3,332.3 L118.7,330.4 L119.1,331.1 L119.5,331.7 L119.9,331.1 L120.3,330.1 L120.7,329 L121.1,329.7 L121.5,327.9 L121.9,327.5 L122.3,327.7 L122.7,326 L123.1,325.9 L123.5,326 L123.9,324.7 L124.3,325.6 L124.7,326.8 L125.1,326.5 L125.5,325.8 L125.9,323.7 L126.3,322.4 L126.7,322.3 L127.1,322.4 L127.5,321.6 L127.9,321.7 L128.3,322.1 L128.7,324 L129.1,320.5 L129.5,320.2 L129.9,320.2 L130.3,321.7 L130.7,322.4 L131.1,322.3 L131.5,322.1 L131.9,321.6 L132.3,322.6 L132.7,322.8 L133.1,323 L133.5,323.7 L133.9,323.8 L134.3,327.1 L134.7,324.6 L135.1,324.3 L135.5,323.4 L135.9,322.1 L136.3,321.8 L136.7,321.6 L137.1,322.4 L137.5,323.8 L137.9,324.4 L138.3,325.6 L138.7,327.4 L139.1,327.9 L139.5,327.9 L139.9,327.2 L140.3,326.3 L140.7,326.7 L141.1,325.7 L141.5,327.9 L141.9,326.9 L142.3,326.5 L142.7,327.4 L143.1,329.6 L143.5,330.4 L143.9,330.7 L144.3,330.8 L144.7,330.5 L145.1,331 L145.5,331.5 L145.9,331.8 L146.3,331.1 L146.7,330.2 L147.1,329.7 L147.5,331.7 L147.9,333.6 L148.3,335 L148.7,332.9 L149.1,333.6 L149.5,333.5 L149.9,333.1 L150.3,333.3 L150.7,332.7 L151.1,331.6 L151.5,333 L151.9,331.8 L152.3,331.4 L152.7,330.7 L153.1,330.8 L153.5,333 L153.9,333.2 L154.3,334 L154.7,334 L155.1,333.4 L155.5,331.8 L155.9,332.7 L156.3,332.3 L156.7,332.7 L157.1,333.1 L157.5,331.5 L157.9,331.3 L158.3,330.5 L158.7,331 L159.1,330 L159.5,328.2 L159.9,326.8 L160.3,327.2 L160.7,326.5 L161.1,328.3 L161.5,328.3 L161.9,328.2 L162.3,327 L162.7,325 L163.1,327.1 L163.5,328.3 L163.9,327.9 L164.3,327.1 L164.7,326.1 L165.1,325.1 L165.5,326 L165.9,325.3 L166.3,325.1 L166.7,327.1 L167.1,326.6 L167.5,326.6 L167.9,327.5 L168.3,327 L168.7,327 L169.1,326.2 L169.5,325 L169.9,324.5 L170.3,324.8 L170.7,325.3 L171.1,327.1 L171.5,326.2 L171.9,326.8 L172.3,325.6 L172.7,325.4 L173.1,326.4 L173.5,327 L173.9,327.5 L174.3,326.7 L174.7,323.1 L175.1,325.6 L175.5,323.9 L175.9,324.8 L176.3,325 L176.7,323.4 L177.1,326.7 L177.5,326.6 L177.9,329.4 L178.3,327.6 L178.7,327.5 L179.1,328.2 L179.5,328.1 L179.9,328.6 L180.3,329.5 L180.7,329.2 L181.1,328.5 L181.5,327.8 L181.9,328.8 L182.3,329.9 L182.7,328.6 L183.1,326.9 L183.5,328.3 L183.9,329 L184.3,329.3 L184.7,331.4 L185.1,331 L185.5,330.7" fill="none" stroke="#16168c" stroke-width="1.4" stroke-linejoin="round"/>
<path d="M87.5,327.5 L88.2,326.8 L88.9,326.1 L89.6,325.5 L90.3,325 L91,324.5 L91.7,324.1 L92.4,323.8 L93.1,323.6 L93.8,323.5 L94.5,323.6 L95.2,323.7 L95.9,324 L96.6,324.4 L97.3,324.9 L98,325.4 L98.7,326 L99.4,326.7 L100.1,327.4 L100.8,328.2 L101.5,328.9 L102.2,329.7 L102.9,330.5 L103.6,331.3 L104.3,332.1 L105,332.9 L105.7,333.6 L106.4,334.3 L107.1,334.9 L107.8,335.5 L108.5,336 L109.2,336.4 L109.9,336.7 L110.6,336.9 L111.3,337 L112,337 L112.7,336.8 L113.4,336.6 L114.1,336.2 L114.8,335.7 L115.5,335.2 L116.2,334.6 L116.9,333.9 L117.6,333.2 L118.3,332.4 L119,331.6 L119.7,330.8 L120.4,329.9 L121.1,329.1 L121.8,328.2 L122.5,327.4 L123.2,326.5 L123.9,325.7 L124.6,325 L125.3,324.3 L126,323.6 L126.7,323.1 L127.4,322.6 L128.1,322.2 L128.8,321.9 L129.5,321.7 L130.2,321.6 L130.9,321.6 L131.6,321.7 L132.3,321.9 L133,322.1 L133.7,322.4 L134.4,322.7 L135.1,323 L135.8,323.4 L136.5,323.9 L137.2,324.3 L137.9,324.8 L138.6,325.3 L139.3,325.9 L140,326.4 L140.7,326.9 L141.4,327.5 L142.1,328 L142.8,328.6 L143.5,329.1 L144.2,329.6 L144.9,330.1 L145.6,330.6 L146.3,331.1 L147,331.5 L147.7,331.8 L148.4,332.2 L149.1,332.4 L149.8,332.7 L150.5,332.8 L151.2,333 L151.9,333 L152.6,333 L153.3,332.9 L154,332.7 L154.7,332.5 L155.4,332.2 L156.1,331.9 L156.8,331.5 L157.5,331.1 L158.2,330.7 L158.9,330.2 L159.6,329.8 L160.3,329.3 L161,328.8 L161.7,328.4 L162.4,327.9 L163.1,327.5 L163.8,327.1 L164.5,326.7 L165.2,326.4 L165.9,326.1 L166.6,325.9 L167.3,325.7 L168,325.5 L168.7,325.5 L169.4,325.5 L170.1,325.5 L170.8,325.6 L171.5,325.6 L172.2,325.7 L172.9,325.7 L173.6,325.8 L174.3,325.9 L175,326.1 L175.7,326.2 L176.4,326.4 L177.1,326.6 L177.8,326.8 L178.5,327 L179.2,327.2 L179.9,327.5 L180.6,327.8 L181.3,328.1 L182,328.4 L182.7,328.8 L183.4,329.2 L184.1,329.6 L184.8,330 L185.5,330.4" fill="none" stroke="#e03046" stroke-width="0.85"/>
</g>
<text x="165.4" y="211.8" font-family='"Liberation Sans", sans-serif' font-size="7.3" fill="#222" text-anchor="start" font-weight="normal" stroke="#222" stroke-width="0.1" >102 GPa</text>
<text x="165.4" y="234.4" font-family='"Liberation Sans", sans-serif' font-size="7.3" fill="#222" text-anchor="start" font-weight="normal" stroke="#222" stroke-width="0.1" >90 GPa</text>
<text x="165.4" y="256.8" font-family='"Liberation Sans", sans-serif' font-size="7.3" fill="#222" text-anchor="start" font-weight="normal" stroke="#222" stroke-width="0.1" >51 GPa</text>
<text x="165.4" y="279.1" font-family='"Liberation Sans", sans-serif' font-size="7.3" fill="#222" text-anchor="start" font-weight="normal" stroke="#222" stroke-width="0.1" >33 GPa</text>
<text x="165.4" y="302.7" font-family='"Liberation Sans", sans-serif' font-size="7.3" fill="#222" text-anchor="start" font-weight="normal" stroke="#222" stroke-width="0.1" >19 GPa</text>
<text x="165.4" y="325.8" font-family='"Liberation Sans", sans-serif' font-size="7.3" fill="#222" text-anchor="start" font-weight="normal" stroke="#222" stroke-width="0.1" >1 bar</text>
<defs><clipPath id="cpCo"><rect x="203.5" y="194.5" width="119.0" height="151.0"/></clipPath></defs>
<line x1="235.1" y1="200.5" x2="235.1" y2="342.5" stroke="#b4b4b4" stroke-width="1.3" stroke-dasharray="1.8,2.4"/>
<line x1="252.8" y1="200.5" x2="252.8" y2="342.5" stroke="#b4b4b4" stroke-width="1.3" stroke-dasharray="1.8,2.4"/>
<rect x="203.5" y="194.5" width="119.0" height="151.0" fill="none" stroke="#999" stroke-width="1"/>
<line x1="206.5" y1="194.5" x2="206.5" y2="197.5" stroke="#999"/>
<line x1="206.5" y1="345.5" x2="206.5" y2="342.5" stroke="#999"/>
<line x1="229.5" y1="194.5" x2="229.5" y2="197.5" stroke="#999"/>
<line x1="229.5" y1="345.5" x2="229.5" y2="342.5" stroke="#999"/>
<line x1="252.5" y1="194.5" x2="252.5" y2="197.5" stroke="#999"/>
<line x1="252.5" y1="345.5" x2="252.5" y2="342.5" stroke="#999"/>
<line x1="276.5" y1="194.5" x2="276.5" y2="197.5" stroke="#999"/>
<line x1="276.5" y1="345.5" x2="276.5" y2="342.5" stroke="#999"/>
<line x1="299.5" y1="194.5" x2="299.5" y2="197.5" stroke="#999"/>
<line x1="299.5" y1="345.5" x2="299.5" y2="342.5" stroke="#999"/>
<line x1="203.5" y1="194.5" x2="206.5" y2="194.5" stroke="#999"/>
<line x1="322.5" y1="194.5" x2="319.5" y2="194.5" stroke="#999"/>
<line x1="203.5" y1="211.5" x2="206.5" y2="211.5" stroke="#999"/>
<line x1="322.5" y1="211.5" x2="319.5" y2="211.5" stroke="#999"/>
<line x1="203.5" y1="228.5" x2="206.5" y2="228.5" stroke="#999"/>
<line x1="322.5" y1="228.5" x2="319.5" y2="228.5" stroke="#999"/>
<line x1="203.5" y1="244.5" x2="206.5" y2="244.5" stroke="#999"/>
<line x1="322.5" y1="244.5" x2="319.5" y2="244.5" stroke="#999"/>
<line x1="203.5" y1="261.5" x2="206.5" y2="261.5" stroke="#999"/>
<line x1="322.5" y1="261.5" x2="319.5" y2="261.5" stroke="#999"/>
<line x1="203.5" y1="278.5" x2="206.5" y2="278.5" stroke="#999"/>
<line x1="322.5" y1="278.5" x2="319.5" y2="278.5" stroke="#999"/>
<line x1="203.5" y1="294.5" x2="206.5" y2="294.5" stroke="#999"/>
<line x1="322.5" y1="294.5" x2="319.5" y2="294.5" stroke="#999"/>
<line x1="203.5" y1="311.5" x2="206.5" y2="311.5" stroke="#999"/>
<line x1="322.5" y1="311.5" x2="319.5" y2="311.5" stroke="#999"/>
<line x1="203.5" y1="328.5" x2="206.5" y2="328.5" stroke="#999"/>
<line x1="322.5" y1="328.5" x2="319.5" y2="328.5" stroke="#999"/>
<line x1="203.5" y1="344.5" x2="206.5" y2="344.5" stroke="#999"/>
<line x1="322.5" y1="344.5" x2="319.5" y2="344.5" stroke="#999"/>
<text x="206" y="353.2" font-family='"Liberation Sans", sans-serif' font-size="9.2" fill="#111" text-anchor="middle" font-weight="normal" stroke="#111" stroke-width="0.2" >3</text>
<text x="229.4" y="353.2" font-family='"Liberation Sans", sans-serif' font-size="9.2" fill="#111" text-anchor="middle" font-weight="normal" stroke="#111" stroke-width="0.2" >4</text>
<text x="252.8" y="353.2" font-family='"Liberation Sans", sans-serif' font-size="9.2" fill="#111" text-anchor="middle" font-weight="normal" stroke="#111" stroke-width="0.2" >5</text>
<text x="276.2" y="353.2" font-family='"Liberation Sans", sans-serif' font-size="9.2" fill="#111" text-anchor="middle" font-weight="normal" stroke="#111" stroke-width="0.2" >6</text>
<text x="299.6" y="353.2" font-family='"Liberation Sans", sans-serif' font-size="9.2" fill="#111" text-anchor="middle" font-weight="normal" stroke="#111" stroke-width="0.2" >7</text>
<text x="323" y="353.2" font-family='"Liberation Sans", sans-serif' font-size="9.2" fill="#111" text-anchor="middle" font-weight="normal" stroke="#111" stroke-width="0.2" >8</text>
<text x="249.2" y="192.9" font-family='"Liberation Sans", sans-serif' font-size="9.3" fill="#111" text-anchor="start" font-weight="normal" stroke="#111" stroke-width="0.15" >Cobalt</text>
<g clip-path="url(#cpCo)">
<path d="M215.8,224.5 L216.2,223.9 L216.6,223.1 L217,221.7 L217.4,221 L217.8,221.2 L218.2,220.8 L218.6,219.8 L219,219.6 L219.4,219.1 L219.8,219.2 L220.2,219.1 L220.6,217.1 L221,218.3 L221.4,217.7 L221.8,217.7 L222.2,216.6 L222.6,216.1 L223,215.6 L223.4,214.4 L223.8,215.1 L224.2,214.7 L224.6,214.1 L225,214.7 L225.4,214.6 L225.8,214.7 L226.2,214.4 L226.6,214.3 L227,215 L227.4,214.7 L227.8,215 L228.2,214.4 L228.6,214.9 L229,216.4 L229.4,216.8 L229.8,216.5 L230.2,216.8 L230.6,216.6 L231,216.4 L231.4,216.6 L231.8,215.9 L232.2,217 L232.6,217.2 L233,217.4 L233.4,218.3 L233.8,218.1 L234.2,218.4 L234.6,219.3 L235,219.5 L235.4,220.9 L235.8,220 L236.2,222.6 L236.6,222.3 L237,221.7 L237.4,222.2 L237.8,222.6 L238.2,222.6 L238.6,224.8 L239,223.2 L239.4,223.2 L239.8,223.6 L240.2,224.8 L240.6,225.3 L241,225.4 L241.4,225.7 L241.8,225.8 L242.2,226.2 L242.6,226.3 L243,226 L243.4,225.9 L243.8,224.5 L244.2,227.7 L244.6,228.3 L245,228.5 L245.4,228.6 L245.8,227.6 L246.2,227.9 L246.6,228.6 L247,228.4 L247.4,228.2 L247.8,228.7 L248.2,227.9 L248.6,228.2 L249,229 L249.4,229.9 L249.8,228.8 L250.2,229.4 L250.6,228.2 L251,227.9 L251.4,227.5 L251.8,227.1 L252.2,226.5 L252.6,226.5 L253,225.7 L253.4,225.6 L253.8,225.2 L254.2,224.3 L254.6,223.7 L255,224.8 L255.4,224 L255.8,223.8 L256.2,223.5 L256.6,223.4 L257,223 L257.4,223.2 L257.8,222.1 L258.2,221.8 L258.6,219.5 L259,220.7 L259.4,220.7 L259.8,222 L260.2,222.4 L260.6,220.9 L261,221 L261.4,220.7 L261.8,220.5 L262.2,219.6 L262.6,218.8 L263,218.8 L263.4,219 L263.8,219.3 L264.2,219 L264.6,219.4 L265,218.7 L265.4,219.2 L265.8,218.7 L266.2,218.8 L266.6,219.6 L267,219.2 L267.4,219.1 L267.8,218.7 L268.2,218.7 L268.6,219.4 L269,219.3 L269.4,218.9 L269.8,218.1 L270.2,218.2 L270.6,218.6 L271,218.6 L271.4,217.9 L271.8,218.9 L272.2,219.2 L272.6,220.1 L273,220.6 L273.4,220.9 L273.8,220 L274.2,220.7 L274.6,219.9 L275,220.5 L275.4,219.7 L275.8,219.4 L276.2,222 L276.6,220 L277,220.2 L277.4,221 L277.8,221.2 L278.2,221.3 L278.6,220.6 L279,221.4 L279.4,220.5 L279.8,221.1 L280.2,220.4 L280.6,220.6 L281,221.4 L281.4,221.4 L281.8,222.7 L282.2,224.2 L282.6,222.3 L283,223.4 L283.4,223.2 L283.8,224.3 L284.2,222.6 L284.6,223.4 L285,222.1 L285.4,220.2 L285.8,222.9 L286.2,222.6 L286.6,221.4 L287,221.7 L287.4,221.7 L287.8,222.1 L288.2,223 L288.6,221.7 L289,222.8 L289.4,223.6 L289.8,223.9 L290.2,223.6 L290.6,223 L291,222.6 L291.4,224.3 L291.8,222.8 L292.2,223.1 L292.6,222.8 L293,222.6 L293.4,223 L293.8,223.1 L294.2,221.9 L294.6,218.7 L295,222 L295.4,221.8 L295.8,224 L296.2,219.4 L296.6,222.9 L297,223.1 L297.4,223.3 L297.8,223.3 L298.2,224 L298.6,224.1 L299,223.3 L299.4,222.8 L299.8,221.7 L300.2,224.7 L300.6,222.1 L301,222.3 L301.4,221 L301.8,222 L302.2,221.2 L302.6,221.8 L303,224.8 L303.4,222.5 L303.8,221.8 L304.2,222.3 L304.6,222.7 L305,223.3 L305.4,222.5 L305.8,222.1 L306.2,221 L306.6,220.6 L307,220.1 L307.4,220.8 L307.8,221.2 L308.2,219.7 L308.6,219.8 L309,222.2 L309.4,220.4 L309.8,218 L310.2,220 L310.6,220.5" fill="none" stroke="#3e922e" stroke-width="1.0" stroke-linejoin="round"/>
<path d="M215.8,224 L216.5,223 L217.2,222.1 L217.9,221.2 L218.6,220.3 L219.3,219.5 L220,218.7 L220.7,218 L221.4,217.3 L222.1,216.7 L222.8,216.2 L223.5,215.7 L224.2,215.3 L224.9,215 L225.6,214.8 L226.3,214.7 L227,214.7 L227.7,214.8 L228.4,215 L229.1,215.2 L229.8,215.5 L230.5,215.9 L231.2,216.4 L231.9,216.9 L232.6,217.4 L233.3,218 L234,218.6 L234.7,219.3 L235.4,220 L236.1,220.7 L236.8,221.4 L237.5,222 L238.2,222.7 L238.9,223.4 L239.6,224.1 L240.3,224.7 L241,225.4 L241.7,225.9 L242.4,226.5 L243.1,227 L243.8,227.4 L244.5,227.8 L245.2,228.1 L245.9,228.3 L246.6,228.4 L247.3,228.5 L248,228.5 L248.7,228.4 L249.4,228.2 L250.1,227.9 L250.8,227.6 L251.5,227.3 L252.2,226.9 L252.9,226.5 L253.6,226 L254.3,225.5 L255,225 L255.7,224.4 L256.4,223.9 L257.1,223.3 L257.8,222.8 L258.5,222.2 L259.2,221.7 L259.9,221.2 L260.6,220.7 L261.3,220.3 L262,219.9 L262.7,219.5 L263.4,219.2 L264.1,218.9 L264.8,218.8 L265.5,218.6 L266.2,218.6 L266.9,218.6 L267.6,218.6 L268.3,218.7 L269,218.8 L269.7,218.8 L270.4,218.9 L271.1,219 L271.8,219.2 L272.5,219.3 L273.2,219.4 L273.9,219.6 L274.6,219.8 L275.3,219.9 L276,220.1 L276.7,220.3 L277.4,220.4 L278.1,220.6 L278.8,220.8 L279.5,221 L280.2,221.2 L280.9,221.3 L281.6,221.5 L282.3,221.6 L283,221.8 L283.7,221.9 L284.4,222.1 L285.1,222.2 L285.8,222.3 L286.5,222.4 L287.2,222.5 L287.9,222.5 L288.6,222.6 L289.3,222.6 L290,222.6 L290.7,222.6 L291.4,222.6 L292.1,222.6 L292.8,222.6 L293.5,222.6 L294.2,222.5 L294.9,222.5 L295.6,222.5 L296.3,222.4 L297,222.4 L297.7,222.4 L298.4,222.3 L299.1,222.3 L299.8,222.2 L300.5,222.1 L301.2,222.1 L301.9,222 L302.6,221.9 L303.3,221.8 L304,221.8 L304.7,221.7 L305.4,221.6 L306.1,221.4 L306.8,221.3 L307.5,221.2 L308.2,221.1 L308.9,221 L309.6,220.8 L310.3,220.7" fill="none" stroke="#e85a52" stroke-width="1.0"/>
<path d="M215.8,249.3 L216.2,248.6 L216.6,248.8 L217,248.2 L217.4,248.2 L217.8,249.9 L218.2,247.7 L218.6,247 L219,246.9 L219.4,245.3 L219.8,244.5 L220.2,244.2 L220.6,243.7 L221,244 L221.4,243.2 L221.8,243.6 L222.2,242.6 L222.6,241.8 L223,242 L223.4,241.1 L223.8,241.6 L224.2,241.2 L224.6,240.6 L225,240.6 L225.4,239.6 L225.8,239.8 L226.2,240.8 L226.6,239.9 L227,240.2 L227.4,240.7 L227.8,240.5 L228.2,240.9 L228.6,240.9 L229,240.6 L229.4,241.1 L229.8,240 L230.2,241 L230.6,241.3 L231,241.5 L231.4,241 L231.8,241.3 L232.2,241.2 L232.6,241.6 L233,241.4 L233.4,243.2 L233.8,243.6 L234.2,244.1 L234.6,244.8 L235,247.4 L235.4,245.1 L235.8,245 L236.2,245.5 L236.6,246.2 L237,246.5 L237.4,247.4 L237.8,247.2 L238.2,248 L238.6,248.6 L239,248.5 L239.4,249.3 L239.8,249.9 L240.2,251 L240.6,251.6 L241,251.6 L241.4,253 L241.8,252.6 L242.2,252 L242.6,252.4 L243,252.8 L243.4,253.5 L243.8,253.6 L244.2,254 L244.6,253.7 L245,254 L245.4,254.4 L245.8,254.3 L246.2,253.4 L246.6,254.2 L247,254.4 L247.4,253.9 L247.8,253.8 L248.2,254.1 L248.6,254.5 L249,253.9 L249.4,253.7 L249.8,253.6 L250.2,255.2 L250.6,253.1 L251,253.5 L251.4,252.9 L251.8,252.8 L252.2,253.3 L252.6,252.7 L253,251.7 L253.4,251.1 L253.8,250.5 L254.2,250.3 L254.6,250.3 L255,250.2 L255.4,248.7 L255.8,248.2 L256.2,249.5 L256.6,249.1 L257,249.6 L257.4,249 L257.8,248.5 L258.2,248.6 L258.6,247.9 L259,247.2 L259.4,246.9 L259.8,246.1 L260.2,245.9 L260.6,244.8 L261,244.8 L261.4,243.7 L261.8,243.2 L262.2,243.5 L262.6,243.7 L263,244.5 L263.4,243.9 L263.8,244.7 L264.2,244.8 L264.6,244.5 L265,244 L265.4,243.8 L265.8,243.5 L266.2,243.4 L266.6,244 L267,243.2 L267.4,243.2 L267.8,242.6 L268.2,243.5 L268.6,244.1 L269,243.1 L269.4,242.7 L269.8,243.4 L270.2,243.8 L270.6,244 L271,246 L271.4,244.5 L271.8,243.9 L272.2,243.9 L272.6,244.3 L273,244.7 L273.4,245.3 L273.8,246.3 L274.2,244.5 L274.6,245.1 L275,245.4 L275.4,246.2 L275.8,246.5 L276.2,245.4 L276.6,246.1 L277,246.1 L277.4,246 L277.8,245.6 L278.2,246.3 L278.6,246.4 L279,247.3 L279.4,247.6 L279.8,248.3 L280.2,246.5 L280.6,248.8 L281,248.7 L281.4,248.9 L281.8,249 L282.2,248.1 L282.6,248.4 L283,248.3 L283.4,248 L283.8,248.2 L284.2,247.5 L284.6,247.9 L285,249.1 L285.4,252.2 L285.8,249.2 L286.2,249.4 L286.6,251.1 L287,252.5 L287.4,252.3 L287.8,252.3 L288.2,252.7 L288.6,251.1 L289,250.8 L289.4,251.6 L289.8,250.6 L290.2,249.1 L290.6,250.2 L291,248.7 L291.4,247.7 L291.8,250.7 L292.2,250.3 L292.6,250.9 L293,251.3 L293.4,251.1 L293.8,251.2 L294.2,251 L294.6,251.6 L295,251.5 L295.4,251.5 L295.8,250.4 L296.2,251.3 L296.6,250.5 L297,250.4 L297.4,249.7 L297.8,250 L298.2,250.8 L298.6,251.2 L299,250.3 L299.4,250.2 L299.8,250.8 L300.2,249.6 L300.6,249.2 L301,247.8 L301.4,248.3 L301.8,250 L302.2,249.1 L302.6,249.4 L303,248.7 L303.4,249.4 L303.8,251.7 L304.2,248.6 L304.6,250 L305,249.6 L305.4,247.2 L305.8,248.8 L306.2,248.7 L306.6,248.7 L307,249.5 L307.4,246.9 L307.8,246.9 L308.2,248.7 L308.6,247.1 L309,250.7 L309.4,250.3 L309.8,249.3 L310.2,249.2" fill="none" stroke="#3e922e" stroke-width="1.0" stroke-linejoin="round"/>
<path d="M215.8,249.2 L216.5,248.3 L217.2,247.4 L217.9,246.6 L218.6,245.8 L219.3,245.1 L220,244.4 L220.7,243.7 L221.4,243.1 L222.1,242.5 L222.8,242 L223.5,241.6 L224.2,241.2 L224.9,240.9 L225.6,240.6 L226.3,240.5 L227,240.3 L227.7,240.3 L228.4,240.4 L229.1,240.5 L229.8,240.7 L230.5,241.1 L231.2,241.5 L231.9,242 L232.6,242.5 L233.3,243.1 L234,243.7 L234.7,244.4 L235.4,245.1 L236.1,245.8 L236.8,246.6 L237.5,247.3 L238.2,248.1 L238.9,248.9 L239.6,249.6 L240.3,250.3 L241,251 L241.7,251.6 L242.4,252.2 L243.1,252.8 L243.8,253.3 L244.5,253.7 L245.2,254 L245.9,254.3 L246.6,254.4 L247.3,254.5 L248,254.5 L248.7,254.3 L249.4,254.1 L250.1,253.9 L250.8,253.5 L251.5,253.1 L252.2,252.7 L252.9,252.2 L253.6,251.6 L254.3,251.1 L255,250.5 L255.7,249.9 L256.4,249.3 L257.1,248.6 L257.8,248 L258.5,247.4 L259.2,246.8 L259.9,246.2 L260.6,245.7 L261.3,245.2 L262,244.7 L262.7,244.3 L263.4,244 L264.1,243.7 L264.8,243.5 L265.5,243.3 L266.2,243.3 L266.9,243.3 L267.6,243.4 L268.3,243.5 L269,243.6 L269.7,243.7 L270.4,243.9 L271.1,244.1 L271.8,244.3 L272.5,244.5 L273.2,244.8 L273.9,245.1 L274.6,245.3 L275.3,245.6 L276,245.9 L276.7,246.3 L277.4,246.6 L278.1,246.9 L278.8,247.2 L279.5,247.5 L280.2,247.9 L280.9,248.2 L281.6,248.5 L282.3,248.8 L283,249.1 L283.7,249.3 L284.4,249.6 L285.1,249.8 L285.8,250.1 L286.5,250.3 L287.2,250.4 L287.9,250.6 L288.6,250.7 L289.3,250.8 L290,250.9 L290.7,250.9 L291.4,250.9 L292.1,250.9 L292.8,250.9 L293.5,250.8 L294.2,250.8 L294.9,250.8 L295.6,250.7 L296.3,250.7 L297,250.6 L297.7,250.5 L298.4,250.5 L299.1,250.4 L299.8,250.3 L300.5,250.1 L301.2,250 L301.9,249.9 L302.6,249.8 L303.3,249.6 L304,249.4 L304.7,249.3 L305.4,249.1 L306.1,248.9 L306.8,248.7 L307.5,248.5 L308.2,248.2 L308.9,248 L309.6,247.7 L310.3,247.5" fill="none" stroke="#e85a52" stroke-width="1.0"/>
<path d="M215.8,276.5 L216.2,275.4 L216.6,274.7 L217,273.2 L217.4,272.8 L217.8,272.4 L218.2,271.9 L218.6,270.8 L219,271.1 L219.4,269.7 L219.8,270.4 L220.2,269.7 L220.6,269.9 L221,270 L221.4,269.8 L221.8,268.9 L222.2,268.9 L222.6,268.9 L223,269.4 L223.4,268.6 L223.8,268.7 L224.2,268.4 L224.6,268.2 L225,267.9 L225.4,266.8 L225.8,267.9 L226.2,267.9 L226.6,268.2 L227,268.2 L227.4,268.8 L227.8,268.7 L228.2,269.7 L228.6,269.9 L229,269.8 L229.4,269.7 L229.8,269.9 L230.2,269.8 L230.6,271.7 L231,272.9 L231.4,271.7 L231.8,271.1 L232.2,271.9 L232.6,271.7 L233,271.8 L233.4,272.6 L233.8,273.5 L234.2,275.5 L234.6,274.4 L235,275.2 L235.4,274.6 L235.8,275.1 L236.2,276.3 L236.6,276.7 L237,277.2 L237.4,276 L237.8,276.9 L238.2,277.5 L238.6,278.2 L239,278.3 L239.4,278.1 L239.8,278.7 L240.2,278.8 L240.6,278.2 L241,279 L241.4,280.1 L241.8,280.8 L242.2,282.4 L242.6,282.7 L243,281.9 L243.4,282.3 L243.8,282.6 L244.2,281.9 L244.6,281.4 L245,281.4 L245.4,281.2 L245.8,281.5 L246.2,280.6 L246.6,281.2 L247,280.5 L247.4,279.6 L247.8,281.5 L248.2,280.6 L248.6,279.9 L249,279.5 L249.4,279.7 L249.8,279.5 L250.2,279.7 L250.6,280.6 L251,279.6 L251.4,278.9 L251.8,279.4 L252.2,278.2 L252.6,278.4 L253,278.2 L253.4,277.9 L253.8,278.1 L254.2,278.2 L254.6,278.4 L255,276.4 L255.4,276.9 L255.8,276.7 L256.2,278.4 L256.6,275.1 L257,274.9 L257.4,275 L257.8,274.1 L258.2,274.2 L258.6,273.9 L259,273.8 L259.4,273 L259.8,273.1 L260.2,272.7 L260.6,271.6 L261,272.2 L261.4,272 L261.8,272.8 L262.2,271.3 L262.6,272 L263,272.1 L263.4,271.4 L263.8,270.3 L264.2,269.9 L264.6,269.3 L265,270.9 L265.4,271.3 L265.8,271.4 L266.2,271.3 L266.6,271.3 L267,271.6 L267.4,272.1 L267.8,271.8 L268.2,271.1 L268.6,271.1 L269,271.4 L269.4,268.9 L269.8,270.8 L270.2,271.2 L270.6,271.7 L271,271.6 L271.4,271.7 L271.8,271.6 L272.2,271.5 L272.6,271.2 L273,271.1 L273.4,272 L273.8,273.6 L274.2,273.9 L274.6,274.2 L275,273.6 L275.4,273.4 L275.8,274.2 L276.2,273.8 L276.6,273 L277,272.9 L277.4,273.1 L277.8,273.7 L278.2,273.6 L278.6,274.1 L279,274.1 L279.4,272.7 L279.8,273.8 L280.2,273.7 L280.6,272.9 L281,275.1 L281.4,276.5 L281.8,276.9 L282.2,277.4 L282.6,277.1 L283,276.3 L283.4,274.8 L283.8,276 L284.2,274.5 L284.6,275 L285,274.7 L285.4,275.1 L285.8,276.2 L286.2,276.6 L286.6,274 L287,275.9 L287.4,275.2 L287.8,275.7 L288.2,276.6 L288.6,277 L289,277 L289.4,277.3 L289.8,277.5 L290.2,277.5 L290.6,277.4 L291,276.7 L291.4,276.1 L291.8,275.7 L292.2,275.5 L292.6,276 L293,276.3 L293.4,275.3 L293.8,275.8 L294.2,277.7 L294.6,277.7 L295,276.6 L295.4,276.4 L295.8,278 L296.2,278 L296.6,277.8 L297,278.2 L297.4,279 L297.8,278.1 L298.2,277 L298.6,277.3 L299,276.8 L299.4,275.7 L299.8,274.8 L300.2,276.3 L300.6,277.2 L301,277.1 L301.4,276.6 L301.8,276.4 L302.2,276.9 L302.6,277.2 L303,277.1 L303.4,277.8 L303.8,275.9 L304.2,274.8 L304.6,276 L305,276 L305.4,275.7 L305.8,274.6 L306.2,275.1 L306.6,274.7 L307,274.1 L307.4,274.4 L307.8,276.6 L308.2,274.2 L308.6,272.2 L309,276.9 L309.4,277.9 L309.8,276.7 L310.2,273.2 L310.6,276.7" fill="none" stroke="#3e922e" stroke-width="1.0" stroke-linejoin="round"/>
<path d="M215.8,275.6 L216.5,274.7 L217.2,273.8 L217.9,273 L218.6,272.1 L219.3,271.4 L220,270.7 L220.7,270 L221.4,269.5 L222.1,269 L222.8,268.5 L223.5,268.2 L224.2,267.9 L224.9,267.8 L225.6,267.7 L226.3,267.7 L227,267.9 L227.7,268.1 L228.4,268.5 L229.1,268.9 L229.8,269.4 L230.5,270 L231.2,270.6 L231.9,271.2 L232.6,272 L233.3,272.7 L234,273.4 L234.7,274.2 L235.4,275 L236.1,275.8 L236.8,276.5 L237.5,277.2 L238.2,278 L238.9,278.6 L239.6,279.2 L240.3,279.8 L241,280.3 L241.7,280.7 L242.4,281.1 L243.1,281.3 L243.8,281.5 L244.5,281.5 L245.2,281.5 L245.9,281.4 L246.6,281.2 L247.3,281 L248,280.8 L248.7,280.5 L249.4,280.2 L250.1,279.8 L250.8,279.4 L251.5,279 L252.2,278.6 L252.9,278.1 L253.6,277.6 L254.3,277.1 L255,276.6 L255.7,276.1 L256.4,275.6 L257.1,275.1 L257.8,274.7 L258.5,274.2 L259.2,273.7 L259.9,273.3 L260.6,272.8 L261.3,272.5 L262,272.1 L262.7,271.8 L263.4,271.5 L264.1,271.2 L264.8,271 L265.5,270.9 L266.2,270.7 L266.9,270.7 L267.6,270.7 L268.3,270.8 L269,270.8 L269.7,271 L270.4,271.1 L271.1,271.3 L271.8,271.5 L272.5,271.7 L273.2,271.9 L273.9,272.2 L274.6,272.4 L275.3,272.7 L276,273 L276.7,273.3 L277.4,273.6 L278.1,273.9 L278.8,274.2 L279.5,274.5 L280.2,274.8 L280.9,275 L281.6,275.3 L282.3,275.5 L283,275.8 L283.7,276 L284.4,276.2 L285.1,276.3 L285.8,276.4 L286.5,276.5 L287.2,276.6 L287.9,276.6 L288.6,276.6 L289.3,276.6 L290,276.6 L290.7,276.6 L291.4,276.6 L292.1,276.6 L292.8,276.6 L293.5,276.6 L294.2,276.6 L294.9,276.5 L295.6,276.5 L296.3,276.5 L297,276.5 L297.7,276.4 L298.4,276.4 L299.1,276.4 L299.8,276.3 L300.5,276.3 L301.2,276.2 L301.9,276.1 L302.6,276.1 L303.3,276 L304,275.9 L304.7,275.8 L305.4,275.7 L306.1,275.6 L306.8,275.4 L307.5,275.3 L308.2,275.2 L308.9,275 L309.6,274.9 L310.3,274.7" fill="none" stroke="#e85a52" stroke-width="1.0"/>
<path d="M214.7,303 L215.1,303.2 L215.5,302.7 L215.9,301.2 L216.3,300.7 L216.7,298.7 L217.1,300.3 L217.5,299.4 L217.9,299.6 L218.3,299.4 L218.7,299 L219.1,296.4 L219.5,297.2 L219.9,296.4 L220.3,295.6 L220.7,294.7 L221.1,293.6 L221.5,294.7 L221.9,293.1 L222.3,293.1 L222.7,292.2 L223.1,295 L223.5,293.6 L223.9,293.5 L224.3,294.6 L224.7,295.4 L225.1,294.9 L225.5,294.8 L225.9,294 L226.3,294.1 L226.7,295.7 L227.1,293.7 L227.5,294.5 L227.9,294.4 L228.3,294.6 L228.7,295 L229.1,295.5 L229.5,296.5 L229.9,297.2 L230.3,297.6 L230.7,298.4 L231.1,300 L231.5,300.3 L231.9,300 L232.3,299.8 L232.7,300.3 L233.1,300.4 L233.5,300.4 L233.9,301 L234.3,302.3 L234.7,301.1 L235.1,303.5 L235.5,304.4 L235.9,303.8 L236.3,305.2 L236.7,305.1 L237.1,304.9 L237.5,305.9 L237.9,305.7 L238.3,306.2 L238.7,306.1 L239.1,306.6 L239.5,306.8 L239.9,307 L240.3,307.3 L240.7,307.8 L241.1,308.2 L241.5,308.4 L241.9,309.2 L242.3,309.1 L242.7,309.1 L243.1,310 L243.5,308.8 L243.9,308.7 L244.3,308.2 L244.7,309.2 L245.1,309.9 L245.5,309.3 L245.9,309.8 L246.3,309.2 L246.7,309.3 L247.1,309.9 L247.5,309.5 L247.9,308.7 L248.3,308.7 L248.7,307.2 L249.1,307.6 L249.5,307.3 L249.9,308.4 L250.3,307.3 L250.7,306.1 L251.1,305.7 L251.5,304.2 L251.9,304.7 L252.3,304.7 L252.7,303.9 L253.1,303.5 L253.5,303 L253.9,302.5 L254.3,302.3 L254.7,302.6 L255.1,301.9 L255.5,301.8 L255.9,302.1 L256.3,302 L256.7,302 L257.1,301.4 L257.5,300.5 L257.9,300.4 L258.3,299.1 L258.7,299.8 L259.1,299 L259.5,299.2 L259.9,298.7 L260.3,298.9 L260.7,298.8 L261.1,298.4 L261.5,299 L261.9,298.8 L262.3,298.6 L262.7,298.2 L263.1,298.5 L263.5,298.6 L263.9,297.6 L264.3,297.4 L264.7,296.3 L265.1,296.5 L265.5,296.7 L265.9,296.5 L266.3,296.5 L266.7,297.2 L267.1,298.3 L267.5,299.2 L267.9,299.4 L268.3,299.3 L268.7,299.2 L269.1,300.5 L269.5,300.6 L269.9,300.1 L270.3,299.2 L270.7,297.7 L271.1,298.7 L271.5,301.4 L271.9,299.7 L272.3,298.5 L272.7,299.6 L273.1,299.9 L273.5,300.4 L273.9,301.5 L274.3,302 L274.7,302.3 L275.1,302.1 L275.5,301.6 L275.9,301 L276.3,301.3 L276.7,301.2 L277.1,301.4 L277.5,302.1 L277.9,301.2 L278.3,301.9 L278.7,302.8 L279.1,303.9 L279.5,304 L279.9,303.3 L280.3,303.7 L280.7,302.8 L281.1,303.1 L281.5,303 L281.9,301.9 L282.3,301.9 L282.7,303.1 L283.1,303 L283.5,303.9 L283.9,303.1 L284.3,303.9 L284.7,304.9 L285.1,304.8 L285.5,305.4 L285.9,304.8 L286.3,303.2 L286.7,303.5 L287.1,303.3 L287.5,303.6 L287.9,305.3 L288.3,302 L288.7,302.1 L289.1,302.4 L289.5,303.2 L289.9,302.6 L290.3,302.9 L290.7,304.3 L291.1,304.2 L291.5,304.6 L291.9,305.3 L292.3,304.9 L292.7,304.8 L293.1,305.2 L293.5,304.1 L293.9,303.5 L294.3,306 L294.7,302.1 L295.1,301 L295.5,302.8 L295.9,303.1 L296.3,303.5 L296.7,304.1 L297.1,303.6 L297.5,302.9 L297.9,303.3 L298.3,303.1 L298.7,303.4 L299.1,304 L299.5,304.5 L299.9,303.2 L300.3,303.1 L300.7,302.5 L301.1,302.6 L301.5,301.9 L301.9,301.7 L302.3,302.1 L302.7,302.4 L303.1,302.2 L303.5,302 L303.9,302.2 L304.3,302.4 L304.7,303.5 L305.1,301.7 L305.5,302.9 L305.9,303.1 L306.3,303.8 L306.7,303.1 L307.1,303.3 L307.5,302.9 L307.9,303.3 L308.3,302.7 L308.7,304.6 L309.1,301 L309.5,301.5 L309.9,301.7 L310.3,301.4" fill="none" stroke="#3e922e" stroke-width="1.0" stroke-linejoin="round"/>
<path d="M214.7,304.1 L215.4,302.9 L216.1,301.8 L216.8,300.7 L217.5,299.7 L218.2,298.6 L218.9,297.7 L219.6,296.9 L220.3,296.1 L221,295.4 L221.7,294.9 L222.4,294.5 L223.1,294.2 L223.8,294 L224.5,294 L225.2,294.1 L225.9,294.4 L226.6,294.7 L227.3,295.1 L228,295.5 L228.7,296.1 L229.4,296.7 L230.1,297.3 L230.8,298 L231.5,298.8 L232.2,299.5 L232.9,300.3 L233.6,301.1 L234.3,301.9 L235,302.7 L235.7,303.5 L236.4,304.3 L237.1,305.1 L237.8,305.8 L238.5,306.5 L239.2,307.1 L239.9,307.7 L240.6,308.2 L241.3,308.6 L242,309 L242.7,309.3 L243.4,309.4 L244.1,309.5 L244.8,309.5 L245.5,309.3 L246.2,309.1 L246.9,308.9 L247.6,308.5 L248.3,308.1 L249,307.7 L249.7,307.2 L250.4,306.7 L251.1,306.1 L251.8,305.5 L252.5,304.9 L253.2,304.2 L253.9,303.6 L254.6,303 L255.3,302.4 L256,301.8 L256.7,301.2 L257.4,300.6 L258.1,300.1 L258.8,299.6 L259.5,299.2 L260.2,298.8 L260.9,298.5 L261.6,298.3 L262.3,298.1 L263,298 L263.7,298 L264.4,298 L265.1,298.1 L265.8,298.2 L266.5,298.3 L267.2,298.4 L267.9,298.6 L268.6,298.8 L269.3,299 L270,299.2 L270.7,299.4 L271.4,299.6 L272.1,299.9 L272.8,300.1 L273.5,300.4 L274.2,300.6 L274.9,300.9 L275.6,301.1 L276.3,301.4 L277,301.6 L277.7,301.9 L278.4,302.1 L279.1,302.4 L279.8,302.6 L280.5,302.8 L281.2,303 L281.9,303.1 L282.6,303.3 L283.3,303.4 L284,303.5 L284.7,303.6 L285.4,303.7 L286.1,303.7 L286.8,303.7 L287.5,303.7 L288.2,303.7 L288.9,303.7 L289.6,303.7 L290.3,303.7 L291,303.7 L291.7,303.6 L292.4,303.6 L293.1,303.6 L293.8,303.6 L294.5,303.5 L295.2,303.5 L295.9,303.5 L296.6,303.4 L297.3,303.4 L298,303.3 L298.7,303.2 L299.4,303.2 L300.1,303.1 L300.8,303 L301.5,302.9 L302.2,302.8 L302.9,302.7 L303.6,302.6 L304.3,302.5 L305,302.4 L305.7,302.3 L306.4,302.1 L307.1,302 L307.8,301.8 L308.5,301.6 L309.2,301.5 L309.9,301.3" fill="none" stroke="#e85a52" stroke-width="1.0"/>
<path d="M210.6,329.6 L211,329.6 L211.4,329 L211.8,326.8 L212.2,326.6 L212.6,326.7 L213,325 L213.4,323.7 L213.8,323.3 L214.2,323.6 L214.6,322.8 L215,322.4 L215.4,321.9 L215.8,322 L216.2,322.3 L216.6,322.2 L217,321.6 L217.4,321.9 L217.8,322.1 L218.2,322.6 L218.6,322.6 L219,323.3 L219.4,324.8 L219.8,325 L220.2,324.5 L220.6,325.2 L221,325.6 L221.4,325.9 L221.8,326.2 L222.2,324 L222.6,326.8 L223,326.4 L223.4,326.6 L223.8,326.9 L224.2,327.6 L224.6,327.7 L225,326.6 L225.4,328.6 L225.8,327.1 L226.2,329.9 L226.6,330 L227,332.3 L227.4,331.7 L227.8,331.5 L228.2,333 L228.6,332.5 L229,331.9 L229.4,333.4 L229.8,333.3 L230.2,333.6 L230.6,333.3 L231,334 L231.4,334.8 L231.8,334.7 L232.2,334.3 L232.6,335.4 L233,334.8 L233.4,335.3 L233.8,335.7 L234.2,335.3 L234.6,336.2 L235,336.5 L235.4,335.6 L235.8,336.5 L236.2,336.6 L236.6,335.4 L237,335.2 L237.4,335.2 L237.8,337.3 L238.2,335.5 L238.6,337.1 L239,336.4 L239.4,335.6 L239.8,334.8 L240.2,335.3 L240.6,333.5 L241,334.8 L241.4,332.4 L241.8,332.5 L242.2,332.7 L242.6,330.9 L243,331.1 L243.4,331.2 L243.8,329.8 L244.2,328.8 L244.6,328.9 L245,327.9 L245.4,327.7 L245.8,327.1 L246.2,329.3 L246.6,328.4 L247,327.6 L247.4,326.5 L247.8,326.2 L248.2,325 L248.6,323.4 L249,322.5 L249.4,323.7 L249.8,323.5 L250.2,321.4 L250.6,323.7 L251,318.9 L251.4,321.4 L251.8,319.8 L252.2,321.7 L252.6,321.3 L253,320.3 L253.4,321.8 L253.8,325.9 L254.2,320 L254.6,320.1 L255,323 L255.4,322.6 L255.8,322.6 L256.2,323.3 L256.6,323.1 L257,324.4 L257.4,323.4 L257.8,323.1 L258.2,323.8 L258.6,324.2 L259,324.1 L259.4,324.7 L259.8,325 L260.2,325 L260.6,324.7 L261,324.7 L261.4,326.1 L261.8,327 L262.2,327.7 L262.6,328.6 L263,327.6 L263.4,328.5 L263.8,329.4 L264.2,329.7 L264.6,330.6 L265,329.2 L265.4,329.3 L265.8,329.1 L266.2,329.4 L266.6,327.9 L267,328.2 L267.4,329.3 L267.8,330.4 L268.2,330.3 L268.6,329.8 L269,330.8 L269.4,330.9 L269.8,331.7 L270.2,332.8 L270.6,332.3 L271,333.1 L271.4,333 L271.8,333.1 L272.2,333.5 L272.6,332.8 L273,332.1 L273.4,331.6 L273.8,332.4 L274.2,332.3 L274.6,332.1 L275,332.1 L275.4,330.3 L275.8,330 L276.2,330.6 L276.6,330.9 L277,330.3 L277.4,329.6 L277.8,329.2 L278.2,328.6 L278.6,328.8 L279,328.6 L279.4,325.5 L279.8,329.3 L280.2,329 L280.6,330.7 L281,328.7 L281.4,329.2 L281.8,329.3 L282.2,328.1 L282.6,329.7 L283,327.7 L283.4,327.6 L283.8,326.9 L284.2,327.6 L284.6,328.2 L285,327.5 L285.4,327 L285.8,326.5 L286.2,327.1 L286.6,328.3 L287,330.1 L287.4,324.2 L287.8,327.2 L288.2,330.3 L288.6,327.4 L289,327 L289.4,325.6 L289.8,326.9 L290.2,329.9 L290.6,326.9 L291,328.3 L291.4,327.3 L291.8,327.4 L292.2,327.1 L292.6,328.8 L293,326.6 L293.4,326.4 L293.8,325.8 L294.2,325.6 L294.6,325 L295,325.2 L295.4,326.2 L295.8,326.1 L296.2,326.6 L296.6,326.8 L297,327.9 L297.4,327.3 L297.8,328.7 L298.2,324.4 L298.6,327.4 L299,329.6 L299.4,328.5 L299.8,325.9 L300.2,326.6 L300.6,327.8 L301,326.8 L301.4,326.9 L301.8,327.4 L302.2,327.5 L302.6,327.5 L303,326.6 L303.4,327.3 L303.8,329 L304.2,328.2 L304.6,327.3 L305,326.5 L305.4,326.3 L305.8,327.2 L306.2,326.2 L306.6,327.5 L307,326.8 L307.4,327.3 L307.8,328.5 L308.2,329.3 L308.6,328.4 L309,328.4 L309.4,332.1 L309.8,328.4 L310.2,328.2" fill="none" stroke="#346e26" stroke-width="1.4" stroke-linejoin="round"/>
<path d="M210.6,329.8 L211.3,328.3 L212,326.7 L212.7,325.1 L213.4,323.8 L214.1,322.8 L214.8,322.3 L215.5,322.2 L216.2,322.3 L216.9,322.5 L217.6,322.8 L218.3,323.1 L219,323.5 L219.7,324 L220.4,324.5 L221.1,325 L221.8,325.6 L222.5,326.3 L223.2,326.9 L223.9,327.6 L224.6,328.3 L225.3,329 L226,329.8 L226.7,330.5 L227.4,331.2 L228.1,331.9 L228.8,332.5 L229.5,333.2 L230.2,333.8 L230.9,334.3 L231.6,334.8 L232.3,335.3 L233,335.7 L233.7,336 L234.4,336.3 L235.1,336.5 L235.8,336.6 L236.5,336.6 L237.2,336.5 L237.9,336.2 L238.6,335.8 L239.3,335.4 L240,334.8 L240.7,334.1 L241.4,333.4 L242.1,332.6 L242.8,331.8 L243.5,331 L244.2,330.1 L244.9,329.2 L245.6,328.3 L246.3,327.5 L247,326.6 L247.7,325.8 L248.4,325.1 L249.1,324.4 L249.8,323.8 L250.5,323.2 L251.2,322.8 L251.9,322.5 L252.6,322.3 L253.3,322.2 L254,322.2 L254.7,322.4 L255.4,322.5 L256.1,322.8 L256.8,323.1 L257.5,323.4 L258.2,323.9 L258.9,324.3 L259.6,324.8 L260.3,325.3 L261,325.8 L261.7,326.3 L262.4,326.9 L263.1,327.4 L263.8,328 L264.5,328.5 L265.2,329.1 L265.9,329.6 L266.6,330 L267.3,330.5 L268,330.9 L268.7,331.3 L269.4,331.6 L270.1,331.8 L270.8,332 L271.5,332.1 L272.2,332.2 L272.9,332.2 L273.6,332.1 L274.3,332 L275,331.8 L275.7,331.6 L276.4,331.4 L277.1,331.1 L277.8,330.8 L278.5,330.5 L279.2,330.2 L279.9,329.9 L280.6,329.5 L281.3,329.2 L282,328.8 L282.7,328.5 L283.4,328.2 L284.1,327.9 L284.8,327.6 L285.5,327.3 L286.2,327.1 L286.9,326.9 L287.6,326.8 L288.3,326.7 L289,326.6 L289.7,326.6 L290.4,326.6 L291.1,326.6 L291.8,326.6 L292.5,326.6 L293.2,326.6 L293.9,326.6 L294.6,326.6 L295.3,326.6 L296,326.7 L296.7,326.7 L297.4,326.7 L298.1,326.7 L298.8,326.8 L299.5,326.8 L300.2,326.9 L300.9,326.9 L301.6,327 L302.3,327.1 L303,327.1 L303.7,327.2 L304.4,327.3 L305.1,327.4 L305.8,327.5 L306.5,327.7 L307.2,327.8 L307.9,327.9 L308.6,328.1 L309.3,328.3 L310,328.5" fill="none" stroke="#e85a52" stroke-width="1.0"/>
</g>
<text x="289.6" y="218.5" font-family='"Liberation Sans", sans-serif' font-size="7.3" fill="#222" text-anchor="start" font-weight="normal" stroke="#222" stroke-width="0.1" >83 GPa</text>
<text x="289.6" y="245.1" font-family='"Liberation Sans", sans-serif' font-size="7.3" fill="#222" text-anchor="start" font-weight="normal" stroke="#222" stroke-width="0.1" >68 GPa</text>
<text x="289.6" y="272" font-family='"Liberation Sans", sans-serif' font-size="7.3" fill="#222" text-anchor="start" font-weight="normal" stroke="#222" stroke-width="0.1" >56 GPa</text>
<text x="289.6" y="298.5" font-family='"Liberation Sans", sans-serif' font-size="7.3" fill="#222" text-anchor="start" font-weight="normal" stroke="#222" stroke-width="0.1" >39 GPa</text>
<text x="289.6" y="324.6" font-family='"Liberation Sans", sans-serif' font-size="7.3" fill="#222" text-anchor="start" font-weight="normal" stroke="#222" stroke-width="0.1" >1 bar</text>
<text x="124.9" y="360.3" font-family='"Liberation Sans", sans-serif' font-size="8.9" fill="#111" text-anchor="start" font-weight="normal" stroke="#111" stroke-width="0.2" >k(Å</text>
<text x="139.5" y="355.5" font-family='"Liberation Sans", sans-serif' font-size="6.5" fill="#111" text-anchor="start" font-weight="normal" stroke="#111" stroke-width="0.1" >−</text>
<text x="144.1" y="355.5" font-family='"Liberation Sans", sans-serif' font-size="6.5" fill="#111" text-anchor="start" font-weight="normal" stroke="#111" stroke-width="0.1" >1</text>
<text x="148.7" y="361.3" font-family='"Liberation Sans", sans-serif' font-size="8.9" fill="#111" text-anchor="start" font-weight="normal" stroke="#111" stroke-width="0.2" >)</text>
<text x="249.2" y="360.3" font-family='"Liberation Sans", sans-serif' font-size="8.9" fill="#111" text-anchor="start" font-weight="normal" stroke="#111" stroke-width="0.2" >k(Å</text>
<text x="263.8" y="355.5" font-family='"Liberation Sans", sans-serif' font-size="6.5" fill="#111" text-anchor="start" font-weight="normal" stroke="#111" stroke-width="0.1" >−</text>
<text x="268.4" y="355.5" font-family='"Liberation Sans", sans-serif' font-size="6.5" fill="#111" text-anchor="start" font-weight="normal" stroke="#111" stroke-width="0.1" >1</text>
<text x="273" y="361.3" font-family='"Liberation Sans", sans-serif' font-size="8.9" fill="#111" text-anchor="start" font-weight="normal" stroke="#111" stroke-width="0.2" >)</text>
<text transform="translate(49.5,269) rotate(-90)" font-family='"Liberation Sans", sans-serif' font-size="9.6" fill="#111" stroke="#111" stroke-width="0.15" text-anchor="middle">χ(k)*k<tspan dy="-4" font-size="6.5">2</tspan><tspan dy="4"> (Å</tspan><tspan dy="-4" font-size="6.5" dx="0.5">− 2</tspan><tspan dy="4" dx="0.5">)</tspan></text></svg></body></html>
